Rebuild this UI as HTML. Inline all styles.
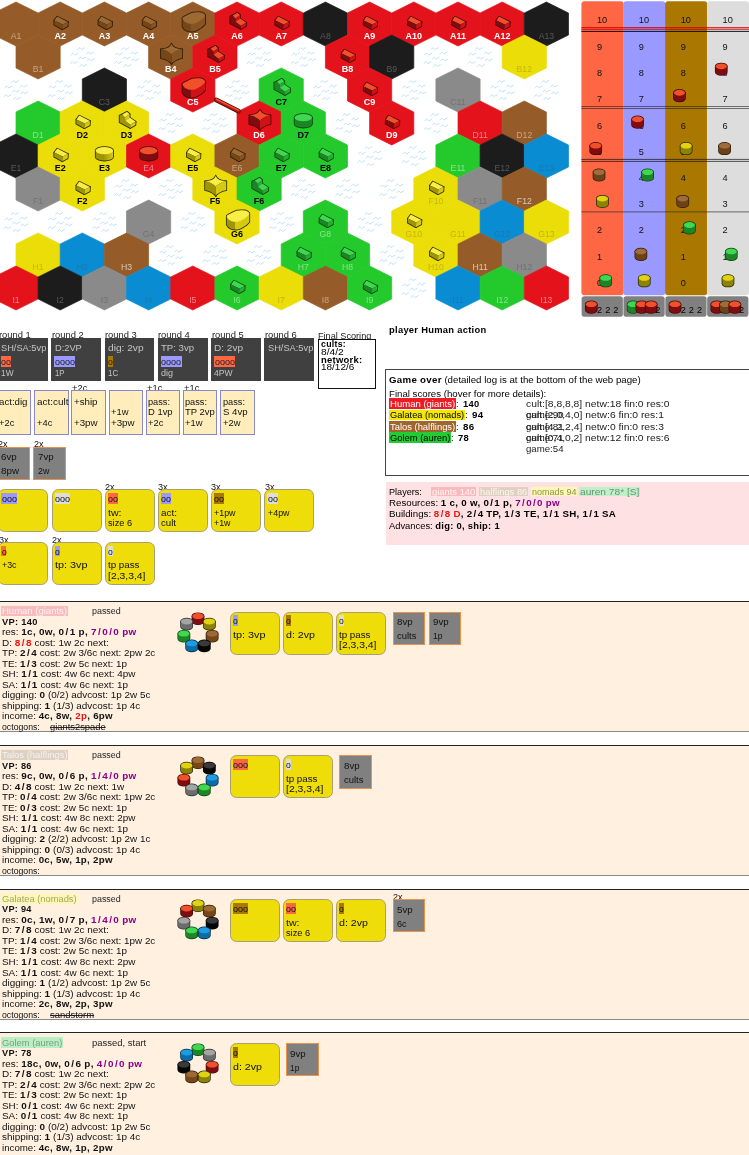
<!DOCTYPE html><html><head><meta charset="utf-8"><style>
*{box-sizing:border-box}
html,body{margin:0;padding:0}
body{position:relative;width:749px;height:1155px;overflow:hidden;background:#fff;font-family:"Liberation Sans",sans-serif;font-size:9.7px;color:#000}
svg text{font-family:"Liberation Sans",sans-serif;font-size:10px}
.a{position:absolute;white-space:nowrap}
.t{position:absolute;white-space:nowrap;line-height:10px;height:10px;transform-origin:0 50%}
i{font-style:normal;padding:0 1.1px}
b{font-weight:bold;letter-spacing:0.3px}
.pw{color:#8B008B;font-weight:bold;letter-spacing:0.3px}
.rd{color:#EE1111;font-weight:bold;letter-spacing:0.3px}
.rbox{position:absolute;top:338.2px;width:49.9px;height:42.6px;background:#404040}
.bon{position:absolute;top:390.3px;width:34.4px;height:45px;background:#FFEEBB;border:0.8px solid #8888CC}
.town{position:absolute;width:32.8px;height:33.1px;background:#808080;border:1.3px solid #E8924A}
.fav{position:absolute;width:50px;height:43.1px;background:#EEDD08;border:0.8px solid #A8A070;border-radius:6.5px}
.cb{position:absolute}
.sec{position:absolute;left:-2px;width:753px;height:131.3px;background:#FFF0E0;border-top:1.2px solid #222;border-bottom:1.2px solid #888}
</style></head><body><div id="w" style="position:absolute;left:0;top:0;width:749px;height:1155px;will-change:transform"><svg width="581" height="322" viewBox="0 0 581 322" style="position:absolute;left:0;top:0"><defs><linearGradient id="cg-brown" x1="0" x2="1" y1="0" y2="0"><stop offset="0" stop-color="#764616"/><stop offset="0.45" stop-color="#764616"/><stop offset="1" stop-color="#764616"/></linearGradient><linearGradient id="sg-brown" gradientUnits="userSpaceOnUse" x1="-11" x2="13" y1="0" y2="0"><stop offset="0" stop-color="#764616"/><stop offset="0.355" stop-color="#764616"/><stop offset="0.385" stop-color="#875322"/><stop offset="1" stop-color="#875322"/></linearGradient><linearGradient id="cg-red" x1="0" x2="1" y1="0" y2="0"><stop offset="0" stop-color="#7E0C10"/><stop offset="0.45" stop-color="#7E0C10"/><stop offset="1" stop-color="#7E0C10"/></linearGradient><linearGradient id="sg-red" gradientUnits="userSpaceOnUse" x1="-11" x2="13" y1="0" y2="0"><stop offset="0" stop-color="#7E0C10"/><stop offset="0.355" stop-color="#7E0C10"/><stop offset="0.385" stop-color="#D01218"/><stop offset="1" stop-color="#D01218"/></linearGradient><linearGradient id="cg-yellow" x1="0" x2="1" y1="0" y2="0"><stop offset="0" stop-color="#9E9608"/><stop offset="0.45" stop-color="#9E9608"/><stop offset="1" stop-color="#D6CA10"/></linearGradient><linearGradient id="sg-yellow" gradientUnits="userSpaceOnUse" x1="-11" x2="13" y1="0" y2="0"><stop offset="0" stop-color="#9E9608"/><stop offset="0.355" stop-color="#9E9608"/><stop offset="0.385" stop-color="#D6CA10"/><stop offset="1" stop-color="#D6CA10"/></linearGradient><linearGradient id="cg-green" x1="0" x2="1" y1="0" y2="0"><stop offset="0" stop-color="#1C8626"/><stop offset="0.45" stop-color="#1C8626"/><stop offset="1" stop-color="#1C8626"/></linearGradient><linearGradient id="sg-green" gradientUnits="userSpaceOnUse" x1="-11" x2="13" y1="0" y2="0"><stop offset="0" stop-color="#1C8626"/><stop offset="0.355" stop-color="#1C8626"/><stop offset="0.385" stop-color="#26AE32"/><stop offset="1" stop-color="#26AE32"/></linearGradient><linearGradient id="cg-black" x1="0" x2="1" y1="0" y2="0"><stop offset="0" stop-color="#060606"/><stop offset="0.45" stop-color="#060606"/><stop offset="1" stop-color="#060606"/></linearGradient><linearGradient id="sg-black" gradientUnits="userSpaceOnUse" x1="-11" x2="13" y1="0" y2="0"><stop offset="0" stop-color="#060606"/><stop offset="0.355" stop-color="#060606"/><stop offset="0.385" stop-color="#060606"/><stop offset="1" stop-color="#060606"/></linearGradient><linearGradient id="cg-blue" x1="0" x2="1" y1="0" y2="0"><stop offset="0" stop-color="#0A6CA8"/><stop offset="0.45" stop-color="#0A6CA8"/><stop offset="1" stop-color="#0A6CA8"/></linearGradient><linearGradient id="sg-blue" gradientUnits="userSpaceOnUse" x1="-11" x2="13" y1="0" y2="0"><stop offset="0" stop-color="#0A6CA8"/><stop offset="0.355" stop-color="#0A6CA8"/><stop offset="0.385" stop-color="#0C74B4"/><stop offset="1" stop-color="#0C74B4"/></linearGradient><linearGradient id="cg-gray" x1="0" x2="1" y1="0" y2="0"><stop offset="0" stop-color="#6C6C6C"/><stop offset="0.45" stop-color="#6C6C6C"/><stop offset="1" stop-color="#6C6C6C"/></linearGradient><linearGradient id="sg-gray" gradientUnits="userSpaceOnUse" x1="-11" x2="13" y1="0" y2="0"><stop offset="0" stop-color="#6C6C6C"/><stop offset="0.355" stop-color="#6C6C6C"/><stop offset="0.385" stop-color="#787878"/><stop offset="1" stop-color="#787878"/></linearGradient><linearGradient id="cg-cyellow" x1="0" x2="1" y1="0" y2="0"><stop offset="0" stop-color="#8C8208"/><stop offset="0.45" stop-color="#8C8208"/><stop offset="1" stop-color="#8C8208"/></linearGradient><linearGradient id="sg-cyellow" gradientUnits="userSpaceOnUse" x1="-11" x2="13" y1="0" y2="0"><stop offset="0" stop-color="#8C8208"/><stop offset="0.355" stop-color="#8C8208"/><stop offset="0.385" stop-color="#8C8208"/><stop offset="1" stop-color="#8C8208"/></linearGradient><linearGradient id="cg-cbrown" x1="0" x2="1" y1="0" y2="0"><stop offset="0" stop-color="#6E4218"/><stop offset="0.45" stop-color="#6E4218"/><stop offset="1" stop-color="#6E4218"/></linearGradient><linearGradient id="sg-cbrown" gradientUnits="userSpaceOnUse" x1="-11" x2="13" y1="0" y2="0"><stop offset="0" stop-color="#6E4218"/><stop offset="0.355" stop-color="#6E4218"/><stop offset="0.385" stop-color="#6E4218"/><stop offset="1" stop-color="#6E4218"/></linearGradient><g id="wv" fill="none" stroke="#B2DDF7" stroke-width="0.9" stroke-linecap="round" stroke-linejoin="round"><path transform="translate(-1,-8.5)" d="M-3.4,0.9C-2.6,-0.2 -2,-1.2 -1.5,-0.8S-0.2,1.1 0.6,0.9S2.4,-0.6 3.3,-0.8"/><path transform="translate(-7.6,-3)" d="M-3.4,0.9C-2.6,-0.2 -2,-1.2 -1.5,-0.8S-0.2,1.1 0.6,0.9S2.4,-0.6 3.3,-0.8"/><path transform="translate(7.7,-4)" d="M-3.4,0.9C-2.6,-0.2 -2,-1.2 -1.5,-0.8S-0.2,1.1 0.6,0.9S2.4,-0.6 3.3,-0.8"/><path transform="translate(0,1)" d="M-3.4,0.9C-2.6,-0.2 -2,-1.2 -1.5,-0.8S-0.2,1.1 0.6,0.9S2.4,-0.6 3.3,-0.8"/><path transform="translate(8.7,2.7)" d="M-3.4,0.9C-2.6,-0.2 -2,-1.2 -1.5,-0.8S-0.2,1.1 0.6,0.9S2.4,-0.6 3.3,-0.8"/><path transform="translate(-8.3,5.5)" d="M-3.4,0.9C-2.6,-0.2 -2,-1.2 -1.5,-0.8S-0.2,1.1 0.6,0.9S2.4,-0.6 3.3,-0.8"/><path transform="translate(1,8.4)" d="M-3.4,0.9C-2.6,-0.2 -2,-1.2 -1.5,-0.8S-0.2,1.1 0.6,0.9S2.4,-0.6 3.3,-0.8"/></g></defs><use href="#wv" x="82.3" y="57"/><use href="#wv" x="126.5" y="57"/><use href="#wv" x="259.1" y="57"/><use href="#wv" x="303.3" y="57"/><use href="#wv" x="435.9" y="57"/><use href="#wv" x="480.1" y="57"/><use href="#wv" x="16" y="90"/><use href="#wv" x="60.2" y="90"/><use href="#wv" x="148.6" y="90"/><use href="#wv" x="237" y="90"/><use href="#wv" x="325.4" y="90"/><use href="#wv" x="413.8" y="90"/><use href="#wv" x="502.2" y="90"/><use href="#wv" x="546.4" y="90"/><use href="#wv" x="170.7" y="123"/><use href="#wv" x="214.9" y="123"/><use href="#wv" x="347.5" y="123"/><use href="#wv" x="435.9" y="123"/><use href="#wv" x="369.6" y="156"/><use href="#wv" x="413.8" y="156"/><use href="#wv" x="126.5" y="189"/><use href="#wv" x="170.7" y="189"/><use href="#wv" x="303.3" y="189"/><use href="#wv" x="347.5" y="189"/><use href="#wv" x="391.7" y="189"/><use href="#wv" x="16" y="222"/><use href="#wv" x="60.2" y="222"/><use href="#wv" x="104.4" y="222"/><use href="#wv" x="192.8" y="222"/><use href="#wv" x="281.2" y="222"/><use href="#wv" x="369.6" y="222"/><use href="#wv" x="170.7" y="255"/><use href="#wv" x="214.9" y="255"/><use href="#wv" x="259.1" y="255"/><use href="#wv" x="391.7" y="255"/><use href="#wv" x="413.8" y="288"/><polygon points="16,2 38.1,13 38.1,35 16,46 -6.1,35 -6.1,13" fill="#955B28" stroke="#955B28" stroke-width="0.7"/><polygon points="60.2,2 82.3,13 82.3,35 60.2,46 38.1,35 38.1,13" fill="#955B28" stroke="#955B28" stroke-width="0.7"/><polygon points="104.4,2 126.5,13 126.5,35 104.4,46 82.3,35 82.3,13" fill="#955B28" stroke="#955B28" stroke-width="0.7"/><polygon points="148.6,2 170.7,13 170.7,35 148.6,46 126.5,35 126.5,13" fill="#955B28" stroke="#955B28" stroke-width="0.7"/><polygon points="192.8,2 214.9,13 214.9,35 192.8,46 170.7,35 170.7,13" fill="#955B28" stroke="#955B28" stroke-width="0.7"/><polygon points="237,2 259.1,13 259.1,35 237,46 214.9,35 214.9,13" fill="#E3121B" stroke="#E3121B" stroke-width="0.7"/><polygon points="281.2,2 303.3,13 303.3,35 281.2,46 259.1,35 259.1,13" fill="#E3121B" stroke="#E3121B" stroke-width="0.7"/><polygon points="325.4,2 347.5,13 347.5,35 325.4,46 303.3,35 303.3,13" fill="#1C1C1C" stroke="#1C1C1C" stroke-width="0.7"/><polygon points="369.6,2 391.7,13 391.7,35 369.6,46 347.5,35 347.5,13" fill="#E3121B" stroke="#E3121B" stroke-width="0.7"/><polygon points="413.8,2 435.9,13 435.9,35 413.8,46 391.7,35 391.7,13" fill="#E3121B" stroke="#E3121B" stroke-width="0.7"/><polygon points="458,2 480.1,13 480.1,35 458,46 435.9,35 435.9,13" fill="#E3121B" stroke="#E3121B" stroke-width="0.7"/><polygon points="502.2,2 524.3,13 524.3,35 502.2,46 480.1,35 480.1,13" fill="#E3121B" stroke="#E3121B" stroke-width="0.7"/><polygon points="546.4,2 568.5,13 568.5,35 546.4,46 524.3,35 524.3,13" fill="#1C1C1C" stroke="#1C1C1C" stroke-width="0.7"/><polygon points="38.1,35 60.2,46 60.2,68 38.1,79 16,68 16,46" fill="#955B28" stroke="#955B28" stroke-width="0.7"/><polygon points="170.7,35 192.8,46 192.8,68 170.7,79 148.6,68 148.6,46" fill="#955B28" stroke="#955B28" stroke-width="0.7"/><polygon points="214.9,35 237,46 237,68 214.9,79 192.8,68 192.8,46" fill="#E3121B" stroke="#E3121B" stroke-width="0.7"/><polygon points="347.5,35 369.6,46 369.6,68 347.5,79 325.4,68 325.4,46" fill="#E3121B" stroke="#E3121B" stroke-width="0.7"/><polygon points="391.7,35 413.8,46 413.8,68 391.7,79 369.6,68 369.6,46" fill="#1C1C1C" stroke="#1C1C1C" stroke-width="0.7"/><polygon points="524.3,35 546.4,46 546.4,68 524.3,79 502.2,68 502.2,46" fill="#EBDD08" stroke="#EBDD08" stroke-width="0.7"/><polygon points="104.4,68 126.5,79 126.5,101 104.4,112 82.3,101 82.3,79" fill="#1C1C1C" stroke="#1C1C1C" stroke-width="0.7"/><polygon points="192.8,68 214.9,79 214.9,101 192.8,112 170.7,101 170.7,79" fill="#E3121B" stroke="#E3121B" stroke-width="0.7"/><polygon points="281.2,68 303.3,79 303.3,101 281.2,112 259.1,101 259.1,79" fill="#24C92C" stroke="#24C92C" stroke-width="0.7"/><polygon points="369.6,68 391.7,79 391.7,101 369.6,112 347.5,101 347.5,79" fill="#E3121B" stroke="#E3121B" stroke-width="0.7"/><polygon points="458,68 480.1,79 480.1,101 458,112 435.9,101 435.9,79" fill="#8A8A8A" stroke="#8A8A8A" stroke-width="0.7"/><polygon points="38.1,101 60.2,112 60.2,134 38.1,145 16,134 16,112" fill="#24C92C" stroke="#24C92C" stroke-width="0.7"/><polygon points="82.3,101 104.4,112 104.4,134 82.3,145 60.2,134 60.2,112" fill="#EBDD08" stroke="#EBDD08" stroke-width="0.7"/><polygon points="126.5,101 148.6,112 148.6,134 126.5,145 104.4,134 104.4,112" fill="#EBDD08" stroke="#EBDD08" stroke-width="0.7"/><polygon points="259.1,101 281.2,112 281.2,134 259.1,145 237,134 237,112" fill="#E3121B" stroke="#E3121B" stroke-width="0.7"/><polygon points="303.3,101 325.4,112 325.4,134 303.3,145 281.2,134 281.2,112" fill="#24C92C" stroke="#24C92C" stroke-width="0.7"/><polygon points="391.7,101 413.8,112 413.8,134 391.7,145 369.6,134 369.6,112" fill="#E3121B" stroke="#E3121B" stroke-width="0.7"/><polygon points="480.1,101 502.2,112 502.2,134 480.1,145 458,134 458,112" fill="#E3121B" stroke="#E3121B" stroke-width="0.7"/><polygon points="524.3,101 546.4,112 546.4,134 524.3,145 502.2,134 502.2,112" fill="#955B28" stroke="#955B28" stroke-width="0.7"/><polygon points="16,134 38.1,145 38.1,167 16,178 -6.1,167 -6.1,145" fill="#1C1C1C" stroke="#1C1C1C" stroke-width="0.7"/><polygon points="60.2,134 82.3,145 82.3,167 60.2,178 38.1,167 38.1,145" fill="#EBDD08" stroke="#EBDD08" stroke-width="0.7"/><polygon points="104.4,134 126.5,145 126.5,167 104.4,178 82.3,167 82.3,145" fill="#EBDD08" stroke="#EBDD08" stroke-width="0.7"/><polygon points="148.6,134 170.7,145 170.7,167 148.6,178 126.5,167 126.5,145" fill="#E3121B" stroke="#E3121B" stroke-width="0.7"/><polygon points="192.8,134 214.9,145 214.9,167 192.8,178 170.7,167 170.7,145" fill="#EBDD08" stroke="#EBDD08" stroke-width="0.7"/><polygon points="237,134 259.1,145 259.1,167 237,178 214.9,167 214.9,145" fill="#955B28" stroke="#955B28" stroke-width="0.7"/><polygon points="281.2,134 303.3,145 303.3,167 281.2,178 259.1,167 259.1,145" fill="#24C92C" stroke="#24C92C" stroke-width="0.7"/><polygon points="325.4,134 347.5,145 347.5,167 325.4,178 303.3,167 303.3,145" fill="#24C92C" stroke="#24C92C" stroke-width="0.7"/><polygon points="458,134 480.1,145 480.1,167 458,178 435.9,167 435.9,145" fill="#24C92C" stroke="#24C92C" stroke-width="0.7"/><polygon points="502.2,134 524.3,145 524.3,167 502.2,178 480.1,167 480.1,145" fill="#1C1C1C" stroke="#1C1C1C" stroke-width="0.7"/><polygon points="546.4,134 568.5,145 568.5,167 546.4,178 524.3,167 524.3,145" fill="#0A8CD2" stroke="#0A8CD2" stroke-width="0.7"/><polygon points="38.1,167 60.2,178 60.2,200 38.1,211 16,200 16,178" fill="#8A8A8A" stroke="#8A8A8A" stroke-width="0.7"/><polygon points="82.3,167 104.4,178 104.4,200 82.3,211 60.2,200 60.2,178" fill="#EBDD08" stroke="#EBDD08" stroke-width="0.7"/><polygon points="214.9,167 237,178 237,200 214.9,211 192.8,200 192.8,178" fill="#EBDD08" stroke="#EBDD08" stroke-width="0.7"/><polygon points="259.1,167 281.2,178 281.2,200 259.1,211 237,200 237,178" fill="#24C92C" stroke="#24C92C" stroke-width="0.7"/><polygon points="435.9,167 458,178 458,200 435.9,211 413.8,200 413.8,178" fill="#EBDD08" stroke="#EBDD08" stroke-width="0.7"/><polygon points="480.1,167 502.2,178 502.2,200 480.1,211 458,200 458,178" fill="#8A8A8A" stroke="#8A8A8A" stroke-width="0.7"/><polygon points="524.3,167 546.4,178 546.4,200 524.3,211 502.2,200 502.2,178" fill="#955B28" stroke="#955B28" stroke-width="0.7"/><polygon points="148.6,200 170.7,211 170.7,233 148.6,244 126.5,233 126.5,211" fill="#8A8A8A" stroke="#8A8A8A" stroke-width="0.7"/><polygon points="237,200 259.1,211 259.1,233 237,244 214.9,233 214.9,211" fill="#EBDD08" stroke="#EBDD08" stroke-width="0.7"/><polygon points="325.4,200 347.5,211 347.5,233 325.4,244 303.3,233 303.3,211" fill="#24C92C" stroke="#24C92C" stroke-width="0.7"/><polygon points="413.8,200 435.9,211 435.9,233 413.8,244 391.7,233 391.7,211" fill="#EBDD08" stroke="#EBDD08" stroke-width="0.7"/><polygon points="458,200 480.1,211 480.1,233 458,244 435.9,233 435.9,211" fill="#EBDD08" stroke="#EBDD08" stroke-width="0.7"/><polygon points="502.2,200 524.3,211 524.3,233 502.2,244 480.1,233 480.1,211" fill="#0A8CD2" stroke="#0A8CD2" stroke-width="0.7"/><polygon points="546.4,200 568.5,211 568.5,233 546.4,244 524.3,233 524.3,211" fill="#EBDD08" stroke="#EBDD08" stroke-width="0.7"/><polygon points="38.1,233 60.2,244 60.2,266 38.1,277 16,266 16,244" fill="#EBDD08" stroke="#EBDD08" stroke-width="0.7"/><polygon points="82.3,233 104.4,244 104.4,266 82.3,277 60.2,266 60.2,244" fill="#0A8CD2" stroke="#0A8CD2" stroke-width="0.7"/><polygon points="126.5,233 148.6,244 148.6,266 126.5,277 104.4,266 104.4,244" fill="#955B28" stroke="#955B28" stroke-width="0.7"/><polygon points="303.3,233 325.4,244 325.4,266 303.3,277 281.2,266 281.2,244" fill="#24C92C" stroke="#24C92C" stroke-width="0.7"/><polygon points="347.5,233 369.6,244 369.6,266 347.5,277 325.4,266 325.4,244" fill="#24C92C" stroke="#24C92C" stroke-width="0.7"/><polygon points="435.9,233 458,244 458,266 435.9,277 413.8,266 413.8,244" fill="#EBDD08" stroke="#EBDD08" stroke-width="0.7"/><polygon points="480.1,233 502.2,244 502.2,266 480.1,277 458,266 458,244" fill="#955B28" stroke="#955B28" stroke-width="0.7"/><polygon points="524.3,233 546.4,244 546.4,266 524.3,277 502.2,266 502.2,244" fill="#8A8A8A" stroke="#8A8A8A" stroke-width="0.7"/><polygon points="16,266 38.1,277 38.1,299 16,310 -6.1,299 -6.1,277" fill="#E3121B" stroke="#E3121B" stroke-width="0.7"/><polygon points="60.2,266 82.3,277 82.3,299 60.2,310 38.1,299 38.1,277" fill="#1C1C1C" stroke="#1C1C1C" stroke-width="0.7"/><polygon points="104.4,266 126.5,277 126.5,299 104.4,310 82.3,299 82.3,277" fill="#8A8A8A" stroke="#8A8A8A" stroke-width="0.7"/><polygon points="148.6,266 170.7,277 170.7,299 148.6,310 126.5,299 126.5,277" fill="#0A8CD2" stroke="#0A8CD2" stroke-width="0.7"/><polygon points="192.8,266 214.9,277 214.9,299 192.8,310 170.7,299 170.7,277" fill="#E3121B" stroke="#E3121B" stroke-width="0.7"/><polygon points="237,266 259.1,277 259.1,299 237,310 214.9,299 214.9,277" fill="#24C92C" stroke="#24C92C" stroke-width="0.7"/><polygon points="281.2,266 303.3,277 303.3,299 281.2,310 259.1,299 259.1,277" fill="#EBDD08" stroke="#EBDD08" stroke-width="0.7"/><polygon points="325.4,266 347.5,277 347.5,299 325.4,310 303.3,299 303.3,277" fill="#955B28" stroke="#955B28" stroke-width="0.7"/><polygon points="369.6,266 391.7,277 391.7,299 369.6,310 347.5,299 347.5,277" fill="#24C92C" stroke="#24C92C" stroke-width="0.7"/><polygon points="458,266 480.1,277 480.1,299 458,310 435.9,299 435.9,277" fill="#0A8CD2" stroke="#0A8CD2" stroke-width="0.7"/><polygon points="502.2,266 524.3,277 524.3,299 502.2,310 480.1,299 480.1,277" fill="#24C92C" stroke="#24C92C" stroke-width="0.7"/><polygon points="546.4,266 568.5,277 568.5,299 546.4,310 524.3,299 524.3,277" fill="#E3121B" stroke="#E3121B" stroke-width="0.7"/><line x1="216.2" y1="99.9" x2="238.4" y2="111.1" stroke="#4A0608" stroke-width="4.6" stroke-linecap="round"/><line x1="216.2" y1="99.9" x2="238.4" y2="111.1" stroke="#B81412" stroke-width="3" stroke-linecap="round"/><line x1="216.5" y1="99.2" x2="238.70000000000002" y2="110.39999999999999" stroke="#F0502A" stroke-width="1.6" stroke-linecap="round"/><text transform="translate(16,38.6) scale(0.87,0.91)" text-anchor="middle" fill="#C7A785">A1</text><g transform="translate(60.2,24)" stroke-linejoin="round"><g fill="#2E1C08" stroke="#2E1C08" stroke-width="1.6"><path d="M-3,-7.4L7.7,-2.1L2.5,0.6L-5.9,-3.5Z"/><path d="M-5.9,-3.5L2.5,0.6L2,5.2L-6,0.7Z"/><path d="M2.5,0.6L7.7,-2.1L7.5,2.2L2,5.2Z"/></g><path d="M-3,-7.4L7.7,-2.1L2.5,0.6L-5.9,-3.5Z" fill="#9E6A34"/><path d="M-5.9,-3.5L2.5,0.6L2,5.2L-6,0.7Z" fill="#764616"/><path d="M2.5,0.6L7.7,-2.1L7.5,2.2L2,5.2Z" fill="#875322"/></g><text transform="translate(60.2,38.6) scale(0.9,0.91)" text-anchor="middle" font-weight="bold" fill="#fff">A2</text><g transform="translate(104.4,24)" stroke-linejoin="round"><g fill="#2E1C08" stroke="#2E1C08" stroke-width="1.6"><path d="M-3,-7.4L7.7,-2.1L2.5,0.6L-5.9,-3.5Z"/><path d="M-5.9,-3.5L2.5,0.6L2,5.2L-6,0.7Z"/><path d="M2.5,0.6L7.7,-2.1L7.5,2.2L2,5.2Z"/></g><path d="M-3,-7.4L7.7,-2.1L2.5,0.6L-5.9,-3.5Z" fill="#9E6A34"/><path d="M-5.9,-3.5L2.5,0.6L2,5.2L-6,0.7Z" fill="#764616"/><path d="M2.5,0.6L7.7,-2.1L7.5,2.2L2,5.2Z" fill="#875322"/></g><text transform="translate(104.4,38.6) scale(0.9,0.91)" text-anchor="middle" font-weight="bold" fill="#fff">A3</text><g transform="translate(148.6,24)" stroke-linejoin="round"><g fill="#2E1C08" stroke="#2E1C08" stroke-width="1.6"><path d="M-3,-7.4L7.7,-2.1L2.5,0.6L-5.9,-3.5Z"/><path d="M-5.9,-3.5L2.5,0.6L2,5.2L-6,0.7Z"/><path d="M2.5,0.6L7.7,-2.1L7.5,2.2L2,5.2Z"/></g><path d="M-3,-7.4L7.7,-2.1L2.5,0.6L-5.9,-3.5Z" fill="#9E6A34"/><path d="M-5.9,-3.5L2.5,0.6L2,5.2L-6,0.7Z" fill="#764616"/><path d="M2.5,0.6L7.7,-2.1L7.5,2.2L2,5.2Z" fill="#875322"/></g><text transform="translate(148.6,38.6) scale(0.9,0.91)" text-anchor="middle" font-weight="bold" fill="#fff">A4</text><g transform="translate(192.8,24)" stroke-linejoin="round"><g fill="#2E1C08" stroke="#2E1C08" stroke-width="1.6"><path d="M-10.25,2.18L-10.23,1.77L-10.09,1.45L-9.8,1.17L-9.33,0.86L-8.65,0.44L-7.65,-0.13L-6.33,-0.82L-4.89,-1.55L-3.51,-2.21L-2.39,-2.72L-1.65,-3.06L-1.16,-3.29L-0.74,-3.44L-0.21,-3.55L0.62,-3.65L1.87,-3.75L3.44,-3.83L5.11,-3.87L6.67,-3.86L7.92,-3.79L8.82,-3.63L9.49,-3.41L10.02,-3.14L10.46,-2.82L10.88,-2.47L11.33,-2.09L11.78,-1.67L12.14,-1.22L12.32,-0.71L12.25,-0.14L11.88,0.51L11.24,1.26L10.44,2.04L9.55,2.81L8.66,3.52L7.72,4.19L6.67,4.85L5.59,5.48L4.55,6.04L3.63,6.5L2.86,6.85L2.21,7.12L1.6,7.32L0.97,7.46L0.24,7.55L-0.62,7.6L-1.55,7.6L-2.51,7.55L-3.47,7.43L-4.36,7.24L-5.22,6.99L-6.07,6.67L-6.88,6.29L-7.63,5.85L-8.28,5.37L-8.85,4.79L-9.38,4.12L-9.81,3.42L-10.12,2.75Z"/><path d="M-10.25,-5.62L12.32,-8.51L12.32,-0.71L-10.25,2.18Z"/><path d="M-10.25,-5.62L-10.23,-6.03L-10.09,-6.35L-9.8,-6.63L-9.33,-6.94L-8.65,-7.36L-7.65,-7.93L-6.33,-8.62L-4.89,-9.35L-3.51,-10.01L-2.39,-10.52L-1.65,-10.86L-1.16,-11.09L-0.74,-11.24L-0.21,-11.35L0.62,-11.45L1.87,-11.55L3.44,-11.63L5.11,-11.67L6.67,-11.66L7.92,-11.59L8.82,-11.43L9.49,-11.21L10.02,-10.94L10.46,-10.62L10.88,-10.27L11.33,-9.89L11.78,-9.47L12.14,-9.02L12.32,-8.51L12.25,-7.94L11.88,-7.29L11.24,-6.54L10.44,-5.76L9.55,-4.99L8.66,-4.28L7.72,-3.61L6.67,-2.95L5.59,-2.32L4.55,-1.76L3.63,-1.3L2.86,-0.95L2.21,-0.68L1.6,-0.48L0.97,-0.34L0.24,-0.25L-0.62,-0.2L-1.55,-0.2L-2.51,-0.25L-3.47,-0.37L-4.36,-0.56L-5.22,-0.81L-6.07,-1.13L-6.88,-1.51L-7.63,-1.95L-8.28,-2.43L-8.85,-3.01L-9.38,-3.68L-9.81,-4.38L-10.12,-5.05Z"/></g><path d="M-10.25,2.18L-10.23,1.77L-10.09,1.45L-9.8,1.17L-9.33,0.86L-8.65,0.44L-7.65,-0.13L-6.33,-0.82L-4.89,-1.55L-3.51,-2.21L-2.39,-2.72L-1.65,-3.06L-1.16,-3.29L-0.74,-3.44L-0.21,-3.55L0.62,-3.65L1.87,-3.75L3.44,-3.83L5.11,-3.87L6.67,-3.86L7.92,-3.79L8.82,-3.63L9.49,-3.41L10.02,-3.14L10.46,-2.82L10.88,-2.47L11.33,-2.09L11.78,-1.67L12.14,-1.22L12.32,-0.71L12.25,-0.14L11.88,0.51L11.24,1.26L10.44,2.04L9.55,2.81L8.66,3.52L7.72,4.19L6.67,4.85L5.59,5.48L4.55,6.04L3.63,6.5L2.86,6.85L2.21,7.12L1.6,7.32L0.97,7.46L0.24,7.55L-0.62,7.6L-1.55,7.6L-2.51,7.55L-3.47,7.43L-4.36,7.24L-5.22,6.99L-6.07,6.67L-6.88,6.29L-7.63,5.85L-8.28,5.37L-8.85,4.79L-9.38,4.12L-9.81,3.42L-10.12,2.75Z" fill="url(#sg-brown)"/><path d="M-10.25,-5.62L12.32,-8.51L12.32,-0.71L-10.25,2.18Z" fill="url(#sg-brown)"/><path d="M-10.25,-5.62L-10.23,-6.03L-10.09,-6.35L-9.8,-6.63L-9.33,-6.94L-8.65,-7.36L-7.65,-7.93L-6.33,-8.62L-4.89,-9.35L-3.51,-10.01L-2.39,-10.52L-1.65,-10.86L-1.16,-11.09L-0.74,-11.24L-0.21,-11.35L0.62,-11.45L1.87,-11.55L3.44,-11.63L5.11,-11.67L6.67,-11.66L7.92,-11.59L8.82,-11.43L9.49,-11.21L10.02,-10.94L10.46,-10.62L10.88,-10.27L11.33,-9.89L11.78,-9.47L12.14,-9.02L12.32,-8.51L12.25,-7.94L11.88,-7.29L11.24,-6.54L10.44,-5.76L9.55,-4.99L8.66,-4.28L7.72,-3.61L6.67,-2.95L5.59,-2.32L4.55,-1.76L3.63,-1.3L2.86,-0.95L2.21,-0.68L1.6,-0.48L0.97,-0.34L0.24,-0.25L-0.62,-0.2L-1.55,-0.2L-2.51,-0.25L-3.47,-0.37L-4.36,-0.56L-5.22,-0.81L-6.07,-1.13L-6.88,-1.51L-7.63,-1.95L-8.28,-2.43L-8.85,-3.01L-9.38,-3.68L-9.81,-4.38L-10.12,-5.05Z" fill="#9E6A34"/></g><text transform="translate(192.8,38.6) scale(0.9,0.91)" text-anchor="middle" font-weight="bold" fill="#fff">A5</text><g transform="translate(237,24)" stroke-linejoin="round"><g fill="#4A0608" stroke="#4A0608" stroke-width="1.6"><path d="M-6.9,-7.4L-4.3,-8.6L-1.5,-5.6L-1.3,-2.2L3.9,1.8L3.7,5L-6.9,-0.8Z"/><path d="M-4.3,-8.6L0.5,-11.3L3.1,-8.8L-1.5,-5.6Z"/><path d="M-1.5,-5.6L3.1,-8.8L3.2,-5.4L-1.3,-2.2Z"/><path d="M-1.3,-2.2L3.2,-5.4L9.1,-1.4L3.9,1.8Z"/><path d="M3.9,1.8L9.1,-1.4L8.9,2L3.7,5Z"/></g><path d="M-6.9,-7.4L-4.3,-8.6L-1.5,-5.6L-1.3,-2.2L3.9,1.8L3.7,5L-6.9,-0.8Z" fill="#7E0C10"/><path d="M-4.3,-8.6L0.5,-11.3L3.1,-8.8L-1.5,-5.6Z" fill="#F0502A"/><path d="M-1.5,-5.6L3.1,-8.8L3.2,-5.4L-1.3,-2.2Z" fill="#D01218"/><path d="M-1.3,-2.2L3.2,-5.4L9.1,-1.4L3.9,1.8Z" fill="#F0502A"/><path d="M3.9,1.8L9.1,-1.4L8.9,2L3.7,5Z" fill="#D01218"/></g><text transform="translate(237,38.6) scale(0.9,0.91)" text-anchor="middle" font-weight="bold" fill="#fff">A6</text><g transform="translate(281.2,24)" stroke-linejoin="round"><g fill="#4A0608" stroke="#4A0608" stroke-width="1.6"><path d="M-3,-7.4L7.7,-2.1L2.5,0.6L-5.9,-3.5Z"/><path d="M-5.9,-3.5L2.5,0.6L2,5.2L-6,0.7Z"/><path d="M2.5,0.6L7.7,-2.1L7.5,2.2L2,5.2Z"/></g><path d="M-3,-7.4L7.7,-2.1L2.5,0.6L-5.9,-3.5Z" fill="#F0502A"/><path d="M-5.9,-3.5L2.5,0.6L2,5.2L-6,0.7Z" fill="#7E0C10"/><path d="M2.5,0.6L7.7,-2.1L7.5,2.2L2,5.2Z" fill="#D01218"/></g><text transform="translate(281.2,38.6) scale(0.9,0.91)" text-anchor="middle" font-weight="bold" fill="#fff">A7</text><text transform="translate(325.4,38.6) scale(0.87,0.91)" text-anchor="middle" fill="#585858">A8</text><g transform="translate(369.6,24)" stroke-linejoin="round"><g fill="#4A0608" stroke="#4A0608" stroke-width="1.6"><path d="M-3,-7.4L7.7,-2.1L2.5,0.6L-5.9,-3.5Z"/><path d="M-5.9,-3.5L2.5,0.6L2,5.2L-6,0.7Z"/><path d="M2.5,0.6L7.7,-2.1L7.5,2.2L2,5.2Z"/></g><path d="M-3,-7.4L7.7,-2.1L2.5,0.6L-5.9,-3.5Z" fill="#F0502A"/><path d="M-5.9,-3.5L2.5,0.6L2,5.2L-6,0.7Z" fill="#7E0C10"/><path d="M2.5,0.6L7.7,-2.1L7.5,2.2L2,5.2Z" fill="#D01218"/></g><text transform="translate(369.6,38.6) scale(0.9,0.91)" text-anchor="middle" font-weight="bold" fill="#fff">A9</text><g transform="translate(413.8,24)" stroke-linejoin="round"><g fill="#4A0608" stroke="#4A0608" stroke-width="1.6"><path d="M-3,-7.4L7.7,-2.1L2.5,0.6L-5.9,-3.5Z"/><path d="M-5.9,-3.5L2.5,0.6L2,5.2L-6,0.7Z"/><path d="M2.5,0.6L7.7,-2.1L7.5,2.2L2,5.2Z"/></g><path d="M-3,-7.4L7.7,-2.1L2.5,0.6L-5.9,-3.5Z" fill="#F0502A"/><path d="M-5.9,-3.5L2.5,0.6L2,5.2L-6,0.7Z" fill="#7E0C10"/><path d="M2.5,0.6L7.7,-2.1L7.5,2.2L2,5.2Z" fill="#D01218"/></g><text transform="translate(413.8,38.6) scale(0.9,0.91)" text-anchor="middle" font-weight="bold" fill="#fff">A10</text><g transform="translate(458,24)" stroke-linejoin="round"><g fill="#4A0608" stroke="#4A0608" stroke-width="1.6"><path d="M-3,-7.4L7.7,-2.1L2.5,0.6L-5.9,-3.5Z"/><path d="M-5.9,-3.5L2.5,0.6L2,5.2L-6,0.7Z"/><path d="M2.5,0.6L7.7,-2.1L7.5,2.2L2,5.2Z"/></g><path d="M-3,-7.4L7.7,-2.1L2.5,0.6L-5.9,-3.5Z" fill="#F0502A"/><path d="M-5.9,-3.5L2.5,0.6L2,5.2L-6,0.7Z" fill="#7E0C10"/><path d="M2.5,0.6L7.7,-2.1L7.5,2.2L2,5.2Z" fill="#D01218"/></g><text transform="translate(458,38.6) scale(0.9,0.91)" text-anchor="middle" font-weight="bold" fill="#fff">A11</text><g transform="translate(502.2,24)" stroke-linejoin="round"><g fill="#4A0608" stroke="#4A0608" stroke-width="1.6"><path d="M-3,-7.4L7.7,-2.1L2.5,0.6L-5.9,-3.5Z"/><path d="M-5.9,-3.5L2.5,0.6L2,5.2L-6,0.7Z"/><path d="M2.5,0.6L7.7,-2.1L7.5,2.2L2,5.2Z"/></g><path d="M-3,-7.4L7.7,-2.1L2.5,0.6L-5.9,-3.5Z" fill="#F0502A"/><path d="M-5.9,-3.5L2.5,0.6L2,5.2L-6,0.7Z" fill="#7E0C10"/><path d="M2.5,0.6L7.7,-2.1L7.5,2.2L2,5.2Z" fill="#D01218"/></g><text transform="translate(502.2,38.6) scale(0.9,0.91)" text-anchor="middle" font-weight="bold" fill="#fff">A12</text><text transform="translate(546.4,38.6) scale(0.87,0.91)" text-anchor="middle" fill="#585858">A13</text><text transform="translate(38.1,71.6) scale(0.87,0.91)" text-anchor="middle" fill="#C7A785">B1</text><g transform="translate(170.7,57)" stroke-linejoin="round"><g fill="#2E1C08" stroke="#2E1C08" stroke-width="1.6"><path d="M-9.8,-7.8L-9.44,-7.77L-8.42,-7.58L-6.89,-7.16L-5.08,-6.49L-3.25,-5.6L-1.62,-4.61L-0.38,-3.63L0.39,-2.8L0.74,-2.24L0.8,-2.05L0.8,6.95L0.74,6.76L0.39,6.2L-0.38,5.37L-1.62,4.39L-3.25,3.4L-5.08,2.51L-6.89,1.84L-8.42,1.42L-9.44,1.23L-9.8,1.2Z"/><path d="M0.8,-2.05L0.86,-2.24L1.21,-2.8L1.98,-3.63L3.22,-4.61L4.85,-5.6L6.68,-6.49L8.49,-7.16L10.02,-7.58L11.04,-7.77L11.4,-7.8L11.4,1.2L11.04,1.23L10.02,1.42L8.49,1.84L6.68,2.51L4.85,3.4L3.22,4.39L1.98,5.37L1.21,6.2L0.86,6.76L0.8,6.95Z"/><path d="M11.4,-7.8L10.96,-7.81L9.72,-7.9L7.92,-8.18L5.9,-8.72L4.01,-9.54L2.5,-10.57L1.5,-11.66L0.98,-12.64L0.82,-13.31L0.8,-13.55L0.78,-13.31L0.62,-12.64L0.1,-11.66L-0.9,-10.57L-2.41,-9.54L-4.3,-8.72L-6.32,-8.18L-8.12,-7.9L-9.36,-7.81L-9.8,-7.8L-9.44,-7.77L-8.42,-7.58L-6.89,-7.16L-5.08,-6.49L-3.25,-5.6L-1.62,-4.61L-0.38,-3.63L0.39,-2.8L0.74,-2.24L0.8,-2.05L0.86,-2.24L1.21,-2.8L1.98,-3.63L3.22,-4.61L4.85,-5.6L6.68,-6.49L8.49,-7.16L10.02,-7.58L11.04,-7.77Z"/></g><path d="M-9.8,-7.8L-9.44,-7.77L-8.42,-7.58L-6.89,-7.16L-5.08,-6.49L-3.25,-5.6L-1.62,-4.61L-0.38,-3.63L0.39,-2.8L0.74,-2.24L0.8,-2.05L0.8,6.95L0.74,6.76L0.39,6.2L-0.38,5.37L-1.62,4.39L-3.25,3.4L-5.08,2.51L-6.89,1.84L-8.42,1.42L-9.44,1.23L-9.8,1.2Z" fill="#764616"/><path d="M0.8,-2.05L0.86,-2.24L1.21,-2.8L1.98,-3.63L3.22,-4.61L4.85,-5.6L6.68,-6.49L8.49,-7.16L10.02,-7.58L11.04,-7.77L11.4,-7.8L11.4,1.2L11.04,1.23L10.02,1.42L8.49,1.84L6.68,2.51L4.85,3.4L3.22,4.39L1.98,5.37L1.21,6.2L0.86,6.76L0.8,6.95Z" fill="#875322"/><path d="M11.4,-7.8L10.96,-7.81L9.72,-7.9L7.92,-8.18L5.9,-8.72L4.01,-9.54L2.5,-10.57L1.5,-11.66L0.98,-12.64L0.82,-13.31L0.8,-13.55L0.78,-13.31L0.62,-12.64L0.1,-11.66L-0.9,-10.57L-2.41,-9.54L-4.3,-8.72L-6.32,-8.18L-8.12,-7.9L-9.36,-7.81L-9.8,-7.8L-9.44,-7.77L-8.42,-7.58L-6.89,-7.16L-5.08,-6.49L-3.25,-5.6L-1.62,-4.61L-0.38,-3.63L0.39,-2.8L0.74,-2.24L0.8,-2.05L0.86,-2.24L1.21,-2.8L1.98,-3.63L3.22,-4.61L4.85,-5.6L6.68,-6.49L8.49,-7.16L10.02,-7.58L11.04,-7.77Z" fill="#9E6A34"/></g><text transform="translate(170.7,71.6) scale(0.9,0.91)" text-anchor="middle" font-weight="bold" fill="#fff">B4</text><g transform="translate(214.9,57)" stroke-linejoin="round"><g fill="#4A0608" stroke="#4A0608" stroke-width="1.6"><path d="M-6.9,-7.4L-4.3,-8.6L-1.5,-5.6L-1.3,-2.2L3.9,1.8L3.7,5L-6.9,-0.8Z"/><path d="M-4.3,-8.6L0.5,-11.3L3.1,-8.8L-1.5,-5.6Z"/><path d="M-1.5,-5.6L3.1,-8.8L3.2,-5.4L-1.3,-2.2Z"/><path d="M-1.3,-2.2L3.2,-5.4L9.1,-1.4L3.9,1.8Z"/><path d="M3.9,1.8L9.1,-1.4L8.9,2L3.7,5Z"/></g><path d="M-6.9,-7.4L-4.3,-8.6L-1.5,-5.6L-1.3,-2.2L3.9,1.8L3.7,5L-6.9,-0.8Z" fill="#7E0C10"/><path d="M-4.3,-8.6L0.5,-11.3L3.1,-8.8L-1.5,-5.6Z" fill="#F0502A"/><path d="M-1.5,-5.6L3.1,-8.8L3.2,-5.4L-1.3,-2.2Z" fill="#D01218"/><path d="M-1.3,-2.2L3.2,-5.4L9.1,-1.4L3.9,1.8Z" fill="#F0502A"/><path d="M3.9,1.8L9.1,-1.4L8.9,2L3.7,5Z" fill="#D01218"/></g><text transform="translate(214.9,71.6) scale(0.9,0.91)" text-anchor="middle" font-weight="bold" fill="#fff">B5</text><g transform="translate(347.5,57)" stroke-linejoin="round"><g fill="#4A0608" stroke="#4A0608" stroke-width="1.6"><path d="M-3,-7.4L7.7,-2.1L2.5,0.6L-5.9,-3.5Z"/><path d="M-5.9,-3.5L2.5,0.6L2,5.2L-6,0.7Z"/><path d="M2.5,0.6L7.7,-2.1L7.5,2.2L2,5.2Z"/></g><path d="M-3,-7.4L7.7,-2.1L2.5,0.6L-5.9,-3.5Z" fill="#F0502A"/><path d="M-5.9,-3.5L2.5,0.6L2,5.2L-6,0.7Z" fill="#7E0C10"/><path d="M2.5,0.6L7.7,-2.1L7.5,2.2L2,5.2Z" fill="#D01218"/></g><text transform="translate(347.5,71.6) scale(0.9,0.91)" text-anchor="middle" font-weight="bold" fill="#fff">B8</text><text transform="translate(391.7,71.6) scale(0.87,0.91)" text-anchor="middle" fill="#585858">B9</text><text transform="translate(524.3,71.6) scale(0.87,0.91)" text-anchor="middle" fill="#C3B708">B12</text><text transform="translate(104.4,104.6) scale(0.87,0.91)" text-anchor="middle" fill="#585858">C3</text><g transform="translate(192.8,90)" stroke-linejoin="round"><g fill="#4A0608" stroke="#4A0608" stroke-width="1.6"><path d="M-10.25,2.18L-10.23,1.77L-10.09,1.45L-9.8,1.17L-9.33,0.86L-8.65,0.44L-7.65,-0.13L-6.33,-0.82L-4.89,-1.55L-3.51,-2.21L-2.39,-2.72L-1.65,-3.06L-1.16,-3.29L-0.74,-3.44L-0.21,-3.55L0.62,-3.65L1.87,-3.75L3.44,-3.83L5.11,-3.87L6.67,-3.86L7.92,-3.79L8.82,-3.63L9.49,-3.41L10.02,-3.14L10.46,-2.82L10.88,-2.47L11.33,-2.09L11.78,-1.67L12.14,-1.22L12.32,-0.71L12.25,-0.14L11.88,0.51L11.24,1.26L10.44,2.04L9.55,2.81L8.66,3.52L7.72,4.19L6.67,4.85L5.59,5.48L4.55,6.04L3.63,6.5L2.86,6.85L2.21,7.12L1.6,7.32L0.97,7.46L0.24,7.55L-0.62,7.6L-1.55,7.6L-2.51,7.55L-3.47,7.43L-4.36,7.24L-5.22,6.99L-6.07,6.67L-6.88,6.29L-7.63,5.85L-8.28,5.37L-8.85,4.79L-9.38,4.12L-9.81,3.42L-10.12,2.75Z"/><path d="M-10.25,-5.62L12.32,-8.51L12.32,-0.71L-10.25,2.18Z"/><path d="M-10.25,-5.62L-10.23,-6.03L-10.09,-6.35L-9.8,-6.63L-9.33,-6.94L-8.65,-7.36L-7.65,-7.93L-6.33,-8.62L-4.89,-9.35L-3.51,-10.01L-2.39,-10.52L-1.65,-10.86L-1.16,-11.09L-0.74,-11.24L-0.21,-11.35L0.62,-11.45L1.87,-11.55L3.44,-11.63L5.11,-11.67L6.67,-11.66L7.92,-11.59L8.82,-11.43L9.49,-11.21L10.02,-10.94L10.46,-10.62L10.88,-10.27L11.33,-9.89L11.78,-9.47L12.14,-9.02L12.32,-8.51L12.25,-7.94L11.88,-7.29L11.24,-6.54L10.44,-5.76L9.55,-4.99L8.66,-4.28L7.72,-3.61L6.67,-2.95L5.59,-2.32L4.55,-1.76L3.63,-1.3L2.86,-0.95L2.21,-0.68L1.6,-0.48L0.97,-0.34L0.24,-0.25L-0.62,-0.2L-1.55,-0.2L-2.51,-0.25L-3.47,-0.37L-4.36,-0.56L-5.22,-0.81L-6.07,-1.13L-6.88,-1.51L-7.63,-1.95L-8.28,-2.43L-8.85,-3.01L-9.38,-3.68L-9.81,-4.38L-10.12,-5.05Z"/></g><path d="M-10.25,2.18L-10.23,1.77L-10.09,1.45L-9.8,1.17L-9.33,0.86L-8.65,0.44L-7.65,-0.13L-6.33,-0.82L-4.89,-1.55L-3.51,-2.21L-2.39,-2.72L-1.65,-3.06L-1.16,-3.29L-0.74,-3.44L-0.21,-3.55L0.62,-3.65L1.87,-3.75L3.44,-3.83L5.11,-3.87L6.67,-3.86L7.92,-3.79L8.82,-3.63L9.49,-3.41L10.02,-3.14L10.46,-2.82L10.88,-2.47L11.33,-2.09L11.78,-1.67L12.14,-1.22L12.32,-0.71L12.25,-0.14L11.88,0.51L11.24,1.26L10.44,2.04L9.55,2.81L8.66,3.52L7.72,4.19L6.67,4.85L5.59,5.48L4.55,6.04L3.63,6.5L2.86,6.85L2.21,7.12L1.6,7.32L0.97,7.46L0.24,7.55L-0.62,7.6L-1.55,7.6L-2.51,7.55L-3.47,7.43L-4.36,7.24L-5.22,6.99L-6.07,6.67L-6.88,6.29L-7.63,5.85L-8.28,5.37L-8.85,4.79L-9.38,4.12L-9.81,3.42L-10.12,2.75Z" fill="url(#sg-red)"/><path d="M-10.25,-5.62L12.32,-8.51L12.32,-0.71L-10.25,2.18Z" fill="url(#sg-red)"/><path d="M-10.25,-5.62L-10.23,-6.03L-10.09,-6.35L-9.8,-6.63L-9.33,-6.94L-8.65,-7.36L-7.65,-7.93L-6.33,-8.62L-4.89,-9.35L-3.51,-10.01L-2.39,-10.52L-1.65,-10.86L-1.16,-11.09L-0.74,-11.24L-0.21,-11.35L0.62,-11.45L1.87,-11.55L3.44,-11.63L5.11,-11.67L6.67,-11.66L7.92,-11.59L8.82,-11.43L9.49,-11.21L10.02,-10.94L10.46,-10.62L10.88,-10.27L11.33,-9.89L11.78,-9.47L12.14,-9.02L12.32,-8.51L12.25,-7.94L11.88,-7.29L11.24,-6.54L10.44,-5.76L9.55,-4.99L8.66,-4.28L7.72,-3.61L6.67,-2.95L5.59,-2.32L4.55,-1.76L3.63,-1.3L2.86,-0.95L2.21,-0.68L1.6,-0.48L0.97,-0.34L0.24,-0.25L-0.62,-0.2L-1.55,-0.2L-2.51,-0.25L-3.47,-0.37L-4.36,-0.56L-5.22,-0.81L-6.07,-1.13L-6.88,-1.51L-7.63,-1.95L-8.28,-2.43L-8.85,-3.01L-9.38,-3.68L-9.81,-4.38L-10.12,-5.05Z" fill="#F0502A"/></g><text transform="translate(192.8,104.6) scale(0.9,0.91)" text-anchor="middle" font-weight="bold" fill="#fff">C5</text><g transform="translate(281.2,90)" stroke-linejoin="round"><g fill="#0C4412" stroke="#0C4412" stroke-width="1.6"><path d="M-6.9,-7.4L-4.3,-8.6L-1.5,-5.6L-1.3,-2.2L3.9,1.8L3.7,5L-6.9,-0.8Z"/><path d="M-4.3,-8.6L0.5,-11.3L3.1,-8.8L-1.5,-5.6Z"/><path d="M-1.5,-5.6L3.1,-8.8L3.2,-5.4L-1.3,-2.2Z"/><path d="M-1.3,-2.2L3.2,-5.4L9.1,-1.4L3.9,1.8Z"/><path d="M3.9,1.8L9.1,-1.4L8.9,2L3.7,5Z"/></g><path d="M-6.9,-7.4L-4.3,-8.6L-1.5,-5.6L-1.3,-2.2L3.9,1.8L3.7,5L-6.9,-0.8Z" fill="#1C8626"/><path d="M-4.3,-8.6L0.5,-11.3L3.1,-8.8L-1.5,-5.6Z" fill="#40D850"/><path d="M-1.5,-5.6L3.1,-8.8L3.2,-5.4L-1.3,-2.2Z" fill="#26AE32"/><path d="M-1.3,-2.2L3.2,-5.4L9.1,-1.4L3.9,1.8Z" fill="#40D850"/><path d="M3.9,1.8L9.1,-1.4L8.9,2L3.7,5Z" fill="#26AE32"/></g><text transform="translate(281.2,104.6) scale(0.9,0.91)" text-anchor="middle" font-weight="bold" fill="#000">C7</text><g transform="translate(369.6,90)" stroke-linejoin="round"><g fill="#4A0608" stroke="#4A0608" stroke-width="1.6"><path d="M-3,-7.4L7.7,-2.1L2.5,0.6L-5.9,-3.5Z"/><path d="M-5.9,-3.5L2.5,0.6L2,5.2L-6,0.7Z"/><path d="M2.5,0.6L7.7,-2.1L7.5,2.2L2,5.2Z"/></g><path d="M-3,-7.4L7.7,-2.1L2.5,0.6L-5.9,-3.5Z" fill="#F0502A"/><path d="M-5.9,-3.5L2.5,0.6L2,5.2L-6,0.7Z" fill="#7E0C10"/><path d="M2.5,0.6L7.7,-2.1L7.5,2.2L2,5.2Z" fill="#D01218"/></g><text transform="translate(369.6,104.6) scale(0.9,0.91)" text-anchor="middle" font-weight="bold" fill="#fff">C9</text><text transform="translate(458,104.6) scale(0.87,0.91)" text-anchor="middle" fill="#727272">C11</text><text transform="translate(38.1,137.6) scale(0.87,0.91)" text-anchor="middle" fill="#8CE292">D1</text><g transform="translate(82.3,123)" stroke-linejoin="round"><g fill="#2C2A00" stroke="#2C2A00" stroke-width="1.6"><path d="M-3,-7.4L7.7,-2.1L2.5,0.6L-5.9,-3.5Z"/><path d="M-5.9,-3.5L2.5,0.6L2,5.2L-6,0.7Z"/><path d="M2.5,0.6L7.7,-2.1L7.5,2.2L2,5.2Z"/></g><path d="M-3,-7.4L7.7,-2.1L2.5,0.6L-5.9,-3.5Z" fill="#F8EE44"/><path d="M-5.9,-3.5L2.5,0.6L2,5.2L-6,0.7Z" fill="#9E9608"/><path d="M2.5,0.6L7.7,-2.1L7.5,2.2L2,5.2Z" fill="#D6CA10"/></g><text transform="translate(82.3,137.6) scale(0.9,0.91)" text-anchor="middle" font-weight="bold" fill="#000">D2</text><g transform="translate(126.5,123)" stroke-linejoin="round"><g fill="#2C2A00" stroke="#2C2A00" stroke-width="1.6"><path d="M-6.9,-7.4L-4.3,-8.6L-1.5,-5.6L-1.3,-2.2L3.9,1.8L3.7,5L-6.9,-0.8Z"/><path d="M-4.3,-8.6L0.5,-11.3L3.1,-8.8L-1.5,-5.6Z"/><path d="M-1.5,-5.6L3.1,-8.8L3.2,-5.4L-1.3,-2.2Z"/><path d="M-1.3,-2.2L3.2,-5.4L9.1,-1.4L3.9,1.8Z"/><path d="M3.9,1.8L9.1,-1.4L8.9,2L3.7,5Z"/></g><path d="M-6.9,-7.4L-4.3,-8.6L-1.5,-5.6L-1.3,-2.2L3.9,1.8L3.7,5L-6.9,-0.8Z" fill="#9E9608"/><path d="M-4.3,-8.6L0.5,-11.3L3.1,-8.8L-1.5,-5.6Z" fill="#F8EE44"/><path d="M-1.5,-5.6L3.1,-8.8L3.2,-5.4L-1.3,-2.2Z" fill="#D6CA10"/><path d="M-1.3,-2.2L3.2,-5.4L9.1,-1.4L3.9,1.8Z" fill="#F8EE44"/><path d="M3.9,1.8L9.1,-1.4L8.9,2L3.7,5Z" fill="#D6CA10"/></g><text transform="translate(126.5,137.6) scale(0.9,0.91)" text-anchor="middle" font-weight="bold" fill="#000">D3</text><g transform="translate(259.1,123)" stroke-linejoin="round"><g fill="#4A0608" stroke="#4A0608" stroke-width="1.6"><path d="M-9.8,-7.8L-9.44,-7.77L-8.42,-7.58L-6.89,-7.16L-5.08,-6.49L-3.25,-5.6L-1.62,-4.61L-0.38,-3.63L0.39,-2.8L0.74,-2.24L0.8,-2.05L0.8,6.95L0.74,6.76L0.39,6.2L-0.38,5.37L-1.62,4.39L-3.25,3.4L-5.08,2.51L-6.89,1.84L-8.42,1.42L-9.44,1.23L-9.8,1.2Z"/><path d="M0.8,-2.05L0.86,-2.24L1.21,-2.8L1.98,-3.63L3.22,-4.61L4.85,-5.6L6.68,-6.49L8.49,-7.16L10.02,-7.58L11.04,-7.77L11.4,-7.8L11.4,1.2L11.04,1.23L10.02,1.42L8.49,1.84L6.68,2.51L4.85,3.4L3.22,4.39L1.98,5.37L1.21,6.2L0.86,6.76L0.8,6.95Z"/><path d="M11.4,-7.8L10.96,-7.81L9.72,-7.9L7.92,-8.18L5.9,-8.72L4.01,-9.54L2.5,-10.57L1.5,-11.66L0.98,-12.64L0.82,-13.31L0.8,-13.55L0.78,-13.31L0.62,-12.64L0.1,-11.66L-0.9,-10.57L-2.41,-9.54L-4.3,-8.72L-6.32,-8.18L-8.12,-7.9L-9.36,-7.81L-9.8,-7.8L-9.44,-7.77L-8.42,-7.58L-6.89,-7.16L-5.08,-6.49L-3.25,-5.6L-1.62,-4.61L-0.38,-3.63L0.39,-2.8L0.74,-2.24L0.8,-2.05L0.86,-2.24L1.21,-2.8L1.98,-3.63L3.22,-4.61L4.85,-5.6L6.68,-6.49L8.49,-7.16L10.02,-7.58L11.04,-7.77Z"/></g><path d="M-9.8,-7.8L-9.44,-7.77L-8.42,-7.58L-6.89,-7.16L-5.08,-6.49L-3.25,-5.6L-1.62,-4.61L-0.38,-3.63L0.39,-2.8L0.74,-2.24L0.8,-2.05L0.8,6.95L0.74,6.76L0.39,6.2L-0.38,5.37L-1.62,4.39L-3.25,3.4L-5.08,2.51L-6.89,1.84L-8.42,1.42L-9.44,1.23L-9.8,1.2Z" fill="#7E0C10"/><path d="M0.8,-2.05L0.86,-2.24L1.21,-2.8L1.98,-3.63L3.22,-4.61L4.85,-5.6L6.68,-6.49L8.49,-7.16L10.02,-7.58L11.04,-7.77L11.4,-7.8L11.4,1.2L11.04,1.23L10.02,1.42L8.49,1.84L6.68,2.51L4.85,3.4L3.22,4.39L1.98,5.37L1.21,6.2L0.86,6.76L0.8,6.95Z" fill="#D01218"/><path d="M11.4,-7.8L10.96,-7.81L9.72,-7.9L7.92,-8.18L5.9,-8.72L4.01,-9.54L2.5,-10.57L1.5,-11.66L0.98,-12.64L0.82,-13.31L0.8,-13.55L0.78,-13.31L0.62,-12.64L0.1,-11.66L-0.9,-10.57L-2.41,-9.54L-4.3,-8.72L-6.32,-8.18L-8.12,-7.9L-9.36,-7.81L-9.8,-7.8L-9.44,-7.77L-8.42,-7.58L-6.89,-7.16L-5.08,-6.49L-3.25,-5.6L-1.62,-4.61L-0.38,-3.63L0.39,-2.8L0.74,-2.24L0.8,-2.05L0.86,-2.24L1.21,-2.8L1.98,-3.63L3.22,-4.61L4.85,-5.6L6.68,-6.49L8.49,-7.16L10.02,-7.58L11.04,-7.77Z" fill="#F0502A"/></g><text transform="translate(259.1,137.6) scale(0.9,0.91)" text-anchor="middle" font-weight="bold" fill="#fff">D6</text><g transform="translate(303.3,123)" stroke-linejoin="round"><g fill="#0C4412" stroke="#0C4412" stroke-width="1.6"><path d="M-8.7,-5.4 L-8.7,1 A8.7,3.6 0 0 0 8.7,1 L8.7,-5.4 Z"/><path d="M-8.7,-5.4 A8.7,3.6 0 1 1 8.7,-5.4 A8.7,3.6 0 1 1 -8.7,-5.4 Z"/></g><path d="M-8.7,-5.4 L-8.7,1 A8.7,3.6 0 0 0 8.7,1 L8.7,-5.4 Z" fill="url(#cg-green)"/><path d="M-8.7,-5.4 A8.7,3.6 0 1 1 8.7,-5.4 A8.7,3.6 0 1 1 -8.7,-5.4 Z" fill="#40D850"/></g><text transform="translate(303.3,137.6) scale(0.9,0.91)" text-anchor="middle" font-weight="bold" fill="#000">D7</text><g transform="translate(391.7,123)" stroke-linejoin="round"><g fill="#4A0608" stroke="#4A0608" stroke-width="1.6"><path d="M-3,-7.4L7.7,-2.1L2.5,0.6L-5.9,-3.5Z"/><path d="M-5.9,-3.5L2.5,0.6L2,5.2L-6,0.7Z"/><path d="M2.5,0.6L7.7,-2.1L7.5,2.2L2,5.2Z"/></g><path d="M-3,-7.4L7.7,-2.1L2.5,0.6L-5.9,-3.5Z" fill="#F0502A"/><path d="M-5.9,-3.5L2.5,0.6L2,5.2L-6,0.7Z" fill="#7E0C10"/><path d="M2.5,0.6L7.7,-2.1L7.5,2.2L2,5.2Z" fill="#D01218"/></g><text transform="translate(391.7,137.6) scale(0.9,0.91)" text-anchor="middle" font-weight="bold" fill="#fff">D9</text><text transform="translate(480.1,137.6) scale(0.87,0.91)" text-anchor="middle" fill="#F0868C">D11</text><text transform="translate(524.3,137.6) scale(0.87,0.91)" text-anchor="middle" fill="#C7A785">D12</text><text transform="translate(16,170.6) scale(0.87,0.91)" text-anchor="middle" fill="#585858">E1</text><g transform="translate(60.2,156)" stroke-linejoin="round"><g fill="#2C2A00" stroke="#2C2A00" stroke-width="1.6"><path d="M-3,-7.4L7.7,-2.1L2.5,0.6L-5.9,-3.5Z"/><path d="M-5.9,-3.5L2.5,0.6L2,5.2L-6,0.7Z"/><path d="M2.5,0.6L7.7,-2.1L7.5,2.2L2,5.2Z"/></g><path d="M-3,-7.4L7.7,-2.1L2.5,0.6L-5.9,-3.5Z" fill="#F8EE44"/><path d="M-5.9,-3.5L2.5,0.6L2,5.2L-6,0.7Z" fill="#9E9608"/><path d="M2.5,0.6L7.7,-2.1L7.5,2.2L2,5.2Z" fill="#D6CA10"/></g><text transform="translate(60.2,170.6) scale(0.9,0.91)" text-anchor="middle" font-weight="bold" fill="#000">E2</text><g transform="translate(104.4,156)" stroke-linejoin="round"><g fill="#2C2A00" stroke="#2C2A00" stroke-width="1.6"><path d="M-8.7,-5.4 L-8.7,1 A8.7,3.6 0 0 0 8.7,1 L8.7,-5.4 Z"/><path d="M-8.7,-5.4 A8.7,3.6 0 1 1 8.7,-5.4 A8.7,3.6 0 1 1 -8.7,-5.4 Z"/></g><path d="M-8.7,-5.4 L-8.7,1 A8.7,3.6 0 0 0 8.7,1 L8.7,-5.4 Z" fill="url(#cg-yellow)"/><path d="M-8.7,-5.4 A8.7,3.6 0 1 1 8.7,-5.4 A8.7,3.6 0 1 1 -8.7,-5.4 Z" fill="#F8EE44"/></g><text transform="translate(104.4,170.6) scale(0.9,0.91)" text-anchor="middle" font-weight="bold" fill="#000">E3</text><g transform="translate(148.6,156)" stroke-linejoin="round"><g fill="#4A0608" stroke="#4A0608" stroke-width="1.6"><path d="M-8.7,-5.4 L-8.7,1 A8.7,3.6 0 0 0 8.7,1 L8.7,-5.4 Z"/><path d="M-8.7,-5.4 A8.7,3.6 0 1 1 8.7,-5.4 A8.7,3.6 0 1 1 -8.7,-5.4 Z"/></g><path d="M-8.7,-5.4 L-8.7,1 A8.7,3.6 0 0 0 8.7,1 L8.7,-5.4 Z" fill="url(#cg-red)"/><path d="M-8.7,-5.4 A8.7,3.6 0 1 1 8.7,-5.4 A8.7,3.6 0 1 1 -8.7,-5.4 Z" fill="#F0502A"/></g><text transform="translate(148.6,170.6) scale(0.87,0.91)" text-anchor="middle" fill="#F0868C">E4</text><g transform="translate(192.8,156)" stroke-linejoin="round"><g fill="#2C2A00" stroke="#2C2A00" stroke-width="1.6"><path d="M-3,-7.4L7.7,-2.1L2.5,0.6L-5.9,-3.5Z"/><path d="M-5.9,-3.5L2.5,0.6L2,5.2L-6,0.7Z"/><path d="M2.5,0.6L7.7,-2.1L7.5,2.2L2,5.2Z"/></g><path d="M-3,-7.4L7.7,-2.1L2.5,0.6L-5.9,-3.5Z" fill="#F8EE44"/><path d="M-5.9,-3.5L2.5,0.6L2,5.2L-6,0.7Z" fill="#9E9608"/><path d="M2.5,0.6L7.7,-2.1L7.5,2.2L2,5.2Z" fill="#D6CA10"/></g><text transform="translate(192.8,170.6) scale(0.9,0.91)" text-anchor="middle" font-weight="bold" fill="#000">E5</text><g transform="translate(237,156)" stroke-linejoin="round"><g fill="#2E1C08" stroke="#2E1C08" stroke-width="1.6"><path d="M-3,-7.4L7.7,-2.1L2.5,0.6L-5.9,-3.5Z"/><path d="M-5.9,-3.5L2.5,0.6L2,5.2L-6,0.7Z"/><path d="M2.5,0.6L7.7,-2.1L7.5,2.2L2,5.2Z"/></g><path d="M-3,-7.4L7.7,-2.1L2.5,0.6L-5.9,-3.5Z" fill="#9E6A34"/><path d="M-5.9,-3.5L2.5,0.6L2,5.2L-6,0.7Z" fill="#764616"/><path d="M2.5,0.6L7.7,-2.1L7.5,2.2L2,5.2Z" fill="#875322"/></g><text transform="translate(237,170.6) scale(0.87,0.91)" text-anchor="middle" fill="#C7A785">E6</text><g transform="translate(281.2,156)" stroke-linejoin="round"><g fill="#0C4412" stroke="#0C4412" stroke-width="1.6"><path d="M-3,-7.4L7.7,-2.1L2.5,0.6L-5.9,-3.5Z"/><path d="M-5.9,-3.5L2.5,0.6L2,5.2L-6,0.7Z"/><path d="M2.5,0.6L7.7,-2.1L7.5,2.2L2,5.2Z"/></g><path d="M-3,-7.4L7.7,-2.1L2.5,0.6L-5.9,-3.5Z" fill="#40D850"/><path d="M-5.9,-3.5L2.5,0.6L2,5.2L-6,0.7Z" fill="#1C8626"/><path d="M2.5,0.6L7.7,-2.1L7.5,2.2L2,5.2Z" fill="#26AE32"/></g><text transform="translate(281.2,170.6) scale(0.9,0.91)" text-anchor="middle" font-weight="bold" fill="#000">E7</text><g transform="translate(325.4,156)" stroke-linejoin="round"><g fill="#0C4412" stroke="#0C4412" stroke-width="1.6"><path d="M-3,-7.4L7.7,-2.1L2.5,0.6L-5.9,-3.5Z"/><path d="M-5.9,-3.5L2.5,0.6L2,5.2L-6,0.7Z"/><path d="M2.5,0.6L7.7,-2.1L7.5,2.2L2,5.2Z"/></g><path d="M-3,-7.4L7.7,-2.1L2.5,0.6L-5.9,-3.5Z" fill="#40D850"/><path d="M-5.9,-3.5L2.5,0.6L2,5.2L-6,0.7Z" fill="#1C8626"/><path d="M2.5,0.6L7.7,-2.1L7.5,2.2L2,5.2Z" fill="#26AE32"/></g><text transform="translate(325.4,170.6) scale(0.9,0.91)" text-anchor="middle" font-weight="bold" fill="#000">E8</text><text transform="translate(458,170.6) scale(0.87,0.91)" text-anchor="middle" fill="#8CE292">E11</text><text transform="translate(502.2,170.6) scale(0.87,0.91)" text-anchor="middle" fill="#585858">E12</text><text transform="translate(546.4,170.6) scale(0.87,0.91)" text-anchor="middle" fill="#1A78B2">E13</text><text transform="translate(38.1,203.6) scale(0.87,0.91)" text-anchor="middle" fill="#727272">F1</text><g transform="translate(82.3,189)" stroke-linejoin="round"><g fill="#2C2A00" stroke="#2C2A00" stroke-width="1.6"><path d="M-3,-7.4L7.7,-2.1L2.5,0.6L-5.9,-3.5Z"/><path d="M-5.9,-3.5L2.5,0.6L2,5.2L-6,0.7Z"/><path d="M2.5,0.6L7.7,-2.1L7.5,2.2L2,5.2Z"/></g><path d="M-3,-7.4L7.7,-2.1L2.5,0.6L-5.9,-3.5Z" fill="#F8EE44"/><path d="M-5.9,-3.5L2.5,0.6L2,5.2L-6,0.7Z" fill="#9E9608"/><path d="M2.5,0.6L7.7,-2.1L7.5,2.2L2,5.2Z" fill="#D6CA10"/></g><text transform="translate(82.3,203.6) scale(0.9,0.91)" text-anchor="middle" font-weight="bold" fill="#000">F2</text><g transform="translate(214.9,189)" stroke-linejoin="round"><g fill="#2C2A00" stroke="#2C2A00" stroke-width="1.6"><path d="M-9.8,-7.8L-9.44,-7.77L-8.42,-7.58L-6.89,-7.16L-5.08,-6.49L-3.25,-5.6L-1.62,-4.61L-0.38,-3.63L0.39,-2.8L0.74,-2.24L0.8,-2.05L0.8,6.95L0.74,6.76L0.39,6.2L-0.38,5.37L-1.62,4.39L-3.25,3.4L-5.08,2.51L-6.89,1.84L-8.42,1.42L-9.44,1.23L-9.8,1.2Z"/><path d="M0.8,-2.05L0.86,-2.24L1.21,-2.8L1.98,-3.63L3.22,-4.61L4.85,-5.6L6.68,-6.49L8.49,-7.16L10.02,-7.58L11.04,-7.77L11.4,-7.8L11.4,1.2L11.04,1.23L10.02,1.42L8.49,1.84L6.68,2.51L4.85,3.4L3.22,4.39L1.98,5.37L1.21,6.2L0.86,6.76L0.8,6.95Z"/><path d="M11.4,-7.8L10.96,-7.81L9.72,-7.9L7.92,-8.18L5.9,-8.72L4.01,-9.54L2.5,-10.57L1.5,-11.66L0.98,-12.64L0.82,-13.31L0.8,-13.55L0.78,-13.31L0.62,-12.64L0.1,-11.66L-0.9,-10.57L-2.41,-9.54L-4.3,-8.72L-6.32,-8.18L-8.12,-7.9L-9.36,-7.81L-9.8,-7.8L-9.44,-7.77L-8.42,-7.58L-6.89,-7.16L-5.08,-6.49L-3.25,-5.6L-1.62,-4.61L-0.38,-3.63L0.39,-2.8L0.74,-2.24L0.8,-2.05L0.86,-2.24L1.21,-2.8L1.98,-3.63L3.22,-4.61L4.85,-5.6L6.68,-6.49L8.49,-7.16L10.02,-7.58L11.04,-7.77Z"/></g><path d="M-9.8,-7.8L-9.44,-7.77L-8.42,-7.58L-6.89,-7.16L-5.08,-6.49L-3.25,-5.6L-1.62,-4.61L-0.38,-3.63L0.39,-2.8L0.74,-2.24L0.8,-2.05L0.8,6.95L0.74,6.76L0.39,6.2L-0.38,5.37L-1.62,4.39L-3.25,3.4L-5.08,2.51L-6.89,1.84L-8.42,1.42L-9.44,1.23L-9.8,1.2Z" fill="#9E9608"/><path d="M0.8,-2.05L0.86,-2.24L1.21,-2.8L1.98,-3.63L3.22,-4.61L4.85,-5.6L6.68,-6.49L8.49,-7.16L10.02,-7.58L11.04,-7.77L11.4,-7.8L11.4,1.2L11.04,1.23L10.02,1.42L8.49,1.84L6.68,2.51L4.85,3.4L3.22,4.39L1.98,5.37L1.21,6.2L0.86,6.76L0.8,6.95Z" fill="#D6CA10"/><path d="M11.4,-7.8L10.96,-7.81L9.72,-7.9L7.92,-8.18L5.9,-8.72L4.01,-9.54L2.5,-10.57L1.5,-11.66L0.98,-12.64L0.82,-13.31L0.8,-13.55L0.78,-13.31L0.62,-12.64L0.1,-11.66L-0.9,-10.57L-2.41,-9.54L-4.3,-8.72L-6.32,-8.18L-8.12,-7.9L-9.36,-7.81L-9.8,-7.8L-9.44,-7.77L-8.42,-7.58L-6.89,-7.16L-5.08,-6.49L-3.25,-5.6L-1.62,-4.61L-0.38,-3.63L0.39,-2.8L0.74,-2.24L0.8,-2.05L0.86,-2.24L1.21,-2.8L1.98,-3.63L3.22,-4.61L4.85,-5.6L6.68,-6.49L8.49,-7.16L10.02,-7.58L11.04,-7.77Z" fill="#F8EE44"/></g><text transform="translate(214.9,203.6) scale(0.9,0.91)" text-anchor="middle" font-weight="bold" fill="#000">F5</text><g transform="translate(259.1,189)" stroke-linejoin="round"><g fill="#0C4412" stroke="#0C4412" stroke-width="1.6"><path d="M-6.9,-7.4L-4.3,-8.6L-1.5,-5.6L-1.3,-2.2L3.9,1.8L3.7,5L-6.9,-0.8Z"/><path d="M-4.3,-8.6L0.5,-11.3L3.1,-8.8L-1.5,-5.6Z"/><path d="M-1.5,-5.6L3.1,-8.8L3.2,-5.4L-1.3,-2.2Z"/><path d="M-1.3,-2.2L3.2,-5.4L9.1,-1.4L3.9,1.8Z"/><path d="M3.9,1.8L9.1,-1.4L8.9,2L3.7,5Z"/></g><path d="M-6.9,-7.4L-4.3,-8.6L-1.5,-5.6L-1.3,-2.2L3.9,1.8L3.7,5L-6.9,-0.8Z" fill="#1C8626"/><path d="M-4.3,-8.6L0.5,-11.3L3.1,-8.8L-1.5,-5.6Z" fill="#40D850"/><path d="M-1.5,-5.6L3.1,-8.8L3.2,-5.4L-1.3,-2.2Z" fill="#26AE32"/><path d="M-1.3,-2.2L3.2,-5.4L9.1,-1.4L3.9,1.8Z" fill="#40D850"/><path d="M3.9,1.8L9.1,-1.4L8.9,2L3.7,5Z" fill="#26AE32"/></g><text transform="translate(259.1,203.6) scale(0.9,0.91)" text-anchor="middle" font-weight="bold" fill="#000">F6</text><g transform="translate(435.9,189)" stroke-linejoin="round"><g fill="#2C2A00" stroke="#2C2A00" stroke-width="1.6"><path d="M-3,-7.4L7.7,-2.1L2.5,0.6L-5.9,-3.5Z"/><path d="M-5.9,-3.5L2.5,0.6L2,5.2L-6,0.7Z"/><path d="M2.5,0.6L7.7,-2.1L7.5,2.2L2,5.2Z"/></g><path d="M-3,-7.4L7.7,-2.1L2.5,0.6L-5.9,-3.5Z" fill="#F8EE44"/><path d="M-5.9,-3.5L2.5,0.6L2,5.2L-6,0.7Z" fill="#9E9608"/><path d="M2.5,0.6L7.7,-2.1L7.5,2.2L2,5.2Z" fill="#D6CA10"/></g><text transform="translate(435.9,203.6) scale(0.87,0.91)" text-anchor="middle" fill="#C3B708">F10</text><text transform="translate(480.1,203.6) scale(0.87,0.91)" text-anchor="middle" fill="#727272">F11</text><text transform="translate(524.3,203.6) scale(0.87,0.91)" text-anchor="middle" fill="#DBC8B2">F12</text><text transform="translate(148.6,236.6) scale(0.87,0.91)" text-anchor="middle" fill="#727272">G4</text><g transform="translate(237,222)" stroke-linejoin="round"><g fill="#2C2A00" stroke="#2C2A00" stroke-width="1.6"><path d="M-10.25,2.18L-10.23,1.77L-10.09,1.45L-9.8,1.17L-9.33,0.86L-8.65,0.44L-7.65,-0.13L-6.33,-0.82L-4.89,-1.55L-3.51,-2.21L-2.39,-2.72L-1.65,-3.06L-1.16,-3.29L-0.74,-3.44L-0.21,-3.55L0.62,-3.65L1.87,-3.75L3.44,-3.83L5.11,-3.87L6.67,-3.86L7.92,-3.79L8.82,-3.63L9.49,-3.41L10.02,-3.14L10.46,-2.82L10.88,-2.47L11.33,-2.09L11.78,-1.67L12.14,-1.22L12.32,-0.71L12.25,-0.14L11.88,0.51L11.24,1.26L10.44,2.04L9.55,2.81L8.66,3.52L7.72,4.19L6.67,4.85L5.59,5.48L4.55,6.04L3.63,6.5L2.86,6.85L2.21,7.12L1.6,7.32L0.97,7.46L0.24,7.55L-0.62,7.6L-1.55,7.6L-2.51,7.55L-3.47,7.43L-4.36,7.24L-5.22,6.99L-6.07,6.67L-6.88,6.29L-7.63,5.85L-8.28,5.37L-8.85,4.79L-9.38,4.12L-9.81,3.42L-10.12,2.75Z"/><path d="M-10.25,-5.62L12.32,-8.51L12.32,-0.71L-10.25,2.18Z"/><path d="M-10.25,-5.62L-10.23,-6.03L-10.09,-6.35L-9.8,-6.63L-9.33,-6.94L-8.65,-7.36L-7.65,-7.93L-6.33,-8.62L-4.89,-9.35L-3.51,-10.01L-2.39,-10.52L-1.65,-10.86L-1.16,-11.09L-0.74,-11.24L-0.21,-11.35L0.62,-11.45L1.87,-11.55L3.44,-11.63L5.11,-11.67L6.67,-11.66L7.92,-11.59L8.82,-11.43L9.49,-11.21L10.02,-10.94L10.46,-10.62L10.88,-10.27L11.33,-9.89L11.78,-9.47L12.14,-9.02L12.32,-8.51L12.25,-7.94L11.88,-7.29L11.24,-6.54L10.44,-5.76L9.55,-4.99L8.66,-4.28L7.72,-3.61L6.67,-2.95L5.59,-2.32L4.55,-1.76L3.63,-1.3L2.86,-0.95L2.21,-0.68L1.6,-0.48L0.97,-0.34L0.24,-0.25L-0.62,-0.2L-1.55,-0.2L-2.51,-0.25L-3.47,-0.37L-4.36,-0.56L-5.22,-0.81L-6.07,-1.13L-6.88,-1.51L-7.63,-1.95L-8.28,-2.43L-8.85,-3.01L-9.38,-3.68L-9.81,-4.38L-10.12,-5.05Z"/></g><path d="M-10.25,2.18L-10.23,1.77L-10.09,1.45L-9.8,1.17L-9.33,0.86L-8.65,0.44L-7.65,-0.13L-6.33,-0.82L-4.89,-1.55L-3.51,-2.21L-2.39,-2.72L-1.65,-3.06L-1.16,-3.29L-0.74,-3.44L-0.21,-3.55L0.62,-3.65L1.87,-3.75L3.44,-3.83L5.11,-3.87L6.67,-3.86L7.92,-3.79L8.82,-3.63L9.49,-3.41L10.02,-3.14L10.46,-2.82L10.88,-2.47L11.33,-2.09L11.78,-1.67L12.14,-1.22L12.32,-0.71L12.25,-0.14L11.88,0.51L11.24,1.26L10.44,2.04L9.55,2.81L8.66,3.52L7.72,4.19L6.67,4.85L5.59,5.48L4.55,6.04L3.63,6.5L2.86,6.85L2.21,7.12L1.6,7.32L0.97,7.46L0.24,7.55L-0.62,7.6L-1.55,7.6L-2.51,7.55L-3.47,7.43L-4.36,7.24L-5.22,6.99L-6.07,6.67L-6.88,6.29L-7.63,5.85L-8.28,5.37L-8.85,4.79L-9.38,4.12L-9.81,3.42L-10.12,2.75Z" fill="url(#sg-yellow)"/><path d="M-10.25,-5.62L12.32,-8.51L12.32,-0.71L-10.25,2.18Z" fill="url(#sg-yellow)"/><path d="M-10.25,-5.62L-10.23,-6.03L-10.09,-6.35L-9.8,-6.63L-9.33,-6.94L-8.65,-7.36L-7.65,-7.93L-6.33,-8.62L-4.89,-9.35L-3.51,-10.01L-2.39,-10.52L-1.65,-10.86L-1.16,-11.09L-0.74,-11.24L-0.21,-11.35L0.62,-11.45L1.87,-11.55L3.44,-11.63L5.11,-11.67L6.67,-11.66L7.92,-11.59L8.82,-11.43L9.49,-11.21L10.02,-10.94L10.46,-10.62L10.88,-10.27L11.33,-9.89L11.78,-9.47L12.14,-9.02L12.32,-8.51L12.25,-7.94L11.88,-7.29L11.24,-6.54L10.44,-5.76L9.55,-4.99L8.66,-4.28L7.72,-3.61L6.67,-2.95L5.59,-2.32L4.55,-1.76L3.63,-1.3L2.86,-0.95L2.21,-0.68L1.6,-0.48L0.97,-0.34L0.24,-0.25L-0.62,-0.2L-1.55,-0.2L-2.51,-0.25L-3.47,-0.37L-4.36,-0.56L-5.22,-0.81L-6.07,-1.13L-6.88,-1.51L-7.63,-1.95L-8.28,-2.43L-8.85,-3.01L-9.38,-3.68L-9.81,-4.38L-10.12,-5.05Z" fill="#F8EE44"/></g><text transform="translate(237,236.6) scale(0.9,0.91)" text-anchor="middle" font-weight="bold" fill="#000">G6</text><g transform="translate(325.4,222)" stroke-linejoin="round"><g fill="#0C4412" stroke="#0C4412" stroke-width="1.6"><path d="M-3,-7.4L7.7,-2.1L2.5,0.6L-5.9,-3.5Z"/><path d="M-5.9,-3.5L2.5,0.6L2,5.2L-6,0.7Z"/><path d="M2.5,0.6L7.7,-2.1L7.5,2.2L2,5.2Z"/></g><path d="M-3,-7.4L7.7,-2.1L2.5,0.6L-5.9,-3.5Z" fill="#40D850"/><path d="M-5.9,-3.5L2.5,0.6L2,5.2L-6,0.7Z" fill="#1C8626"/><path d="M2.5,0.6L7.7,-2.1L7.5,2.2L2,5.2Z" fill="#26AE32"/></g><text transform="translate(325.4,236.6) scale(0.87,0.91)" text-anchor="middle" fill="#8CE292">G8</text><g transform="translate(413.8,222)" stroke-linejoin="round"><g fill="#2C2A00" stroke="#2C2A00" stroke-width="1.6"><path d="M-3,-7.4L7.7,-2.1L2.5,0.6L-5.9,-3.5Z"/><path d="M-5.9,-3.5L2.5,0.6L2,5.2L-6,0.7Z"/><path d="M2.5,0.6L7.7,-2.1L7.5,2.2L2,5.2Z"/></g><path d="M-3,-7.4L7.7,-2.1L2.5,0.6L-5.9,-3.5Z" fill="#F8EE44"/><path d="M-5.9,-3.5L2.5,0.6L2,5.2L-6,0.7Z" fill="#9E9608"/><path d="M2.5,0.6L7.7,-2.1L7.5,2.2L2,5.2Z" fill="#D6CA10"/></g><text transform="translate(413.8,236.6) scale(0.87,0.91)" text-anchor="middle" fill="#C3B708">G10</text><text transform="translate(458,236.6) scale(0.87,0.91)" text-anchor="middle" fill="#C3B708">G11</text><text transform="translate(502.2,236.6) scale(0.87,0.91)" text-anchor="middle" fill="#1A78B2">G12</text><text transform="translate(546.4,236.6) scale(0.87,0.91)" text-anchor="middle" fill="#C3B708">G13</text><text transform="translate(38.1,269.6) scale(0.87,0.91)" text-anchor="middle" fill="#C3B708">H1</text><text transform="translate(82.3,269.6) scale(0.87,0.91)" text-anchor="middle" fill="#1A78B2">H2</text><text transform="translate(126.5,269.6) scale(0.87,0.91)" text-anchor="middle" fill="#DBC8B2">H3</text><g transform="translate(303.3,255)" stroke-linejoin="round"><g fill="#0C4412" stroke="#0C4412" stroke-width="1.6"><path d="M-3,-7.4L7.7,-2.1L2.5,0.6L-5.9,-3.5Z"/><path d="M-5.9,-3.5L2.5,0.6L2,5.2L-6,0.7Z"/><path d="M2.5,0.6L7.7,-2.1L7.5,2.2L2,5.2Z"/></g><path d="M-3,-7.4L7.7,-2.1L2.5,0.6L-5.9,-3.5Z" fill="#40D850"/><path d="M-5.9,-3.5L2.5,0.6L2,5.2L-6,0.7Z" fill="#1C8626"/><path d="M2.5,0.6L7.7,-2.1L7.5,2.2L2,5.2Z" fill="#26AE32"/></g><text transform="translate(303.3,269.6) scale(0.87,0.91)" text-anchor="middle" fill="#8CE292">H7</text><g transform="translate(347.5,255)" stroke-linejoin="round"><g fill="#0C4412" stroke="#0C4412" stroke-width="1.6"><path d="M-3,-7.4L7.7,-2.1L2.5,0.6L-5.9,-3.5Z"/><path d="M-5.9,-3.5L2.5,0.6L2,5.2L-6,0.7Z"/><path d="M2.5,0.6L7.7,-2.1L7.5,2.2L2,5.2Z"/></g><path d="M-3,-7.4L7.7,-2.1L2.5,0.6L-5.9,-3.5Z" fill="#40D850"/><path d="M-5.9,-3.5L2.5,0.6L2,5.2L-6,0.7Z" fill="#1C8626"/><path d="M2.5,0.6L7.7,-2.1L7.5,2.2L2,5.2Z" fill="#26AE32"/></g><text transform="translate(347.5,269.6) scale(0.87,0.91)" text-anchor="middle" fill="#8CE292">H8</text><g transform="translate(435.9,255)" stroke-linejoin="round"><g fill="#2C2A00" stroke="#2C2A00" stroke-width="1.6"><path d="M-3,-7.4L7.7,-2.1L2.5,0.6L-5.9,-3.5Z"/><path d="M-5.9,-3.5L2.5,0.6L2,5.2L-6,0.7Z"/><path d="M2.5,0.6L7.7,-2.1L7.5,2.2L2,5.2Z"/></g><path d="M-3,-7.4L7.7,-2.1L2.5,0.6L-5.9,-3.5Z" fill="#F8EE44"/><path d="M-5.9,-3.5L2.5,0.6L2,5.2L-6,0.7Z" fill="#9E9608"/><path d="M2.5,0.6L7.7,-2.1L7.5,2.2L2,5.2Z" fill="#D6CA10"/></g><text transform="translate(435.9,269.6) scale(0.87,0.91)" text-anchor="middle" fill="#C3B708">H10</text><text transform="translate(480.1,269.6) scale(0.87,0.91)" text-anchor="middle" fill="#DBC8B2">H11</text><text transform="translate(524.3,269.6) scale(0.87,0.91)" text-anchor="middle" fill="#727272">H12</text><text transform="translate(16,302.6) scale(0.87,0.91)" text-anchor="middle" fill="#F0868C">I1</text><text transform="translate(60.2,302.6) scale(0.87,0.91)" text-anchor="middle" fill="#585858">I2</text><text transform="translate(104.4,302.6) scale(0.87,0.91)" text-anchor="middle" fill="#727272">I3</text><text transform="translate(148.6,302.6) scale(0.87,0.91)" text-anchor="middle" fill="#1A78B2">I4</text><text transform="translate(192.8,302.6) scale(0.87,0.91)" text-anchor="middle" fill="#F0868C">I5</text><g transform="translate(237,288)" stroke-linejoin="round"><g fill="#0C4412" stroke="#0C4412" stroke-width="1.6"><path d="M-3,-7.4L7.7,-2.1L2.5,0.6L-5.9,-3.5Z"/><path d="M-5.9,-3.5L2.5,0.6L2,5.2L-6,0.7Z"/><path d="M2.5,0.6L7.7,-2.1L7.5,2.2L2,5.2Z"/></g><path d="M-3,-7.4L7.7,-2.1L2.5,0.6L-5.9,-3.5Z" fill="#40D850"/><path d="M-5.9,-3.5L2.5,0.6L2,5.2L-6,0.7Z" fill="#1C8626"/><path d="M2.5,0.6L7.7,-2.1L7.5,2.2L2,5.2Z" fill="#26AE32"/></g><text transform="translate(237,302.6) scale(0.87,0.91)" text-anchor="middle" fill="#8CE292">I6</text><text transform="translate(281.2,302.6) scale(0.87,0.91)" text-anchor="middle" fill="#C3B708">I7</text><text transform="translate(325.4,302.6) scale(0.87,0.91)" text-anchor="middle" fill="#C7A785">I8</text><g transform="translate(369.6,288)" stroke-linejoin="round"><g fill="#0C4412" stroke="#0C4412" stroke-width="1.6"><path d="M-3,-7.4L7.7,-2.1L2.5,0.6L-5.9,-3.5Z"/><path d="M-5.9,-3.5L2.5,0.6L2,5.2L-6,0.7Z"/><path d="M2.5,0.6L7.7,-2.1L7.5,2.2L2,5.2Z"/></g><path d="M-3,-7.4L7.7,-2.1L2.5,0.6L-5.9,-3.5Z" fill="#40D850"/><path d="M-5.9,-3.5L2.5,0.6L2,5.2L-6,0.7Z" fill="#1C8626"/><path d="M2.5,0.6L7.7,-2.1L7.5,2.2L2,5.2Z" fill="#26AE32"/></g><text transform="translate(369.6,302.6) scale(0.87,0.91)" text-anchor="middle" fill="#8CE292">I9</text><text transform="translate(458,302.6) scale(0.87,0.91)" text-anchor="middle" fill="#1A78B2">I11</text><text transform="translate(502.2,302.6) scale(0.87,0.91)" text-anchor="middle" fill="#8CE292">I12</text><text transform="translate(546.4,302.6) scale(0.87,0.91)" text-anchor="middle" fill="#F0868C">I13</text></svg><svg width="171" height="322" viewBox="578 0 171 322" style="position:absolute;left:578px;top:0"><rect x="581.4" y="1.2" width="42.15" height="294" rx="3" ry="3" fill="#FF6644"/><rect x="581.6" y="296.2" width="41.25" height="20.5" rx="2.8" ry="2.8" fill="#808080"/><rect x="623.25" y="1.2" width="42.15" height="294" rx="3" ry="3" fill="#9999FF"/><rect x="623.45" y="296.2" width="41.25" height="20.5" rx="2.8" ry="2.8" fill="#808080"/><rect x="665.1" y="1.2" width="42.15" height="294" rx="3" ry="3" fill="#AA7700"/><rect x="665.3" y="296.2" width="41.25" height="20.5" rx="2.8" ry="2.8" fill="#808080"/><rect x="706.95" y="1.2" width="42.15" height="294" rx="3" ry="3" fill="#DDDDDD"/><rect x="707.15" y="296.2" width="41.25" height="20.5" rx="2.8" ry="2.8" fill="#808080"/><line x1="581.4" x2="749" y1="27.65" y2="27.65" stroke="#D00000" stroke-width="0.9"/><line x1="581.4" x2="749" y1="29.25" y2="29.25" stroke="#D00000" stroke-width="0.9"/><line x1="581.4" x2="749" y1="31.4" y2="31.4" stroke="#000" stroke-width="0.9"/><line x1="581.4" x2="749" y1="106.5" y2="106.5" stroke="#222" stroke-width="0.6"/><line x1="581.4" x2="749" y1="108.5" y2="108.5" stroke="#222" stroke-width="0.6"/><line x1="581.4" x2="749" y1="159.4" y2="159.4" stroke="#111" stroke-width="0.7"/><line x1="581.4" x2="749" y1="161.4" y2="161.4" stroke="#111" stroke-width="0.7"/><line x1="581.4" x2="749" y1="211.9" y2="211.9" stroke="#333" stroke-width="0.7"/><text transform="translate(597,285.7) scale(0.92,0.93)" fill="#111">0</text><text transform="translate(597,259.52) scale(0.92,0.93)" fill="#111">1</text><text transform="translate(597,233.34) scale(0.92,0.93)" fill="#111">2</text><text transform="translate(597,207.16) scale(0.92,0.93)" fill="#111">3</text><text transform="translate(597,180.98) scale(0.92,0.93)" fill="#111">4</text><text transform="translate(597,154.8) scale(0.92,0.93)" fill="#111">5</text><text transform="translate(597,128.62) scale(0.92,0.93)" fill="#111">6</text><text transform="translate(597,102.44) scale(0.92,0.93)" fill="#111">7</text><text transform="translate(597,76.26) scale(0.92,0.93)" fill="#111">8</text><text transform="translate(597,50.08) scale(0.92,0.93)" fill="#111">9</text><text transform="translate(597,22.8) scale(0.92,0.93)" fill="#111">10</text><text transform="translate(638.85,285.7) scale(0.92,0.93)" fill="#111">0</text><text transform="translate(638.85,259.52) scale(0.92,0.93)" fill="#111">1</text><text transform="translate(638.85,233.34) scale(0.92,0.93)" fill="#111">2</text><text transform="translate(638.85,207.16) scale(0.92,0.93)" fill="#111">3</text><text transform="translate(638.85,180.98) scale(0.92,0.93)" fill="#111">4</text><text transform="translate(638.85,154.8) scale(0.92,0.93)" fill="#111">5</text><text transform="translate(638.85,128.62) scale(0.92,0.93)" fill="#111">6</text><text transform="translate(638.85,102.44) scale(0.92,0.93)" fill="#111">7</text><text transform="translate(638.85,76.26) scale(0.92,0.93)" fill="#111">8</text><text transform="translate(638.85,50.08) scale(0.92,0.93)" fill="#111">9</text><text transform="translate(638.85,22.8) scale(0.92,0.93)" fill="#111">10</text><text transform="translate(680.7,285.7) scale(0.92,0.93)" fill="#111">0</text><text transform="translate(680.7,259.52) scale(0.92,0.93)" fill="#111">1</text><text transform="translate(680.7,233.34) scale(0.92,0.93)" fill="#111">2</text><text transform="translate(680.7,207.16) scale(0.92,0.93)" fill="#111">3</text><text transform="translate(680.7,180.98) scale(0.92,0.93)" fill="#111">4</text><text transform="translate(680.7,154.8) scale(0.92,0.93)" fill="#111">5</text><text transform="translate(680.7,128.62) scale(0.92,0.93)" fill="#111">6</text><text transform="translate(680.7,102.44) scale(0.92,0.93)" fill="#111">7</text><text transform="translate(680.7,76.26) scale(0.92,0.93)" fill="#111">8</text><text transform="translate(680.7,50.08) scale(0.92,0.93)" fill="#111">9</text><text transform="translate(680.7,22.8) scale(0.92,0.93)" fill="#111">10</text><text transform="translate(722.55,285.7) scale(0.92,0.93)" fill="#111">0</text><text transform="translate(722.55,259.52) scale(0.92,0.93)" fill="#111">1</text><text transform="translate(722.55,233.34) scale(0.92,0.93)" fill="#111">2</text><text transform="translate(722.55,207.16) scale(0.92,0.93)" fill="#111">3</text><text transform="translate(722.55,180.98) scale(0.92,0.93)" fill="#111">4</text><text transform="translate(722.55,154.8) scale(0.92,0.93)" fill="#111">5</text><text transform="translate(722.55,128.62) scale(0.92,0.93)" fill="#111">6</text><text transform="translate(722.55,102.44) scale(0.92,0.93)" fill="#111">7</text><text transform="translate(722.55,76.26) scale(0.92,0.93)" fill="#111">8</text><text transform="translate(722.55,50.08) scale(0.92,0.93)" fill="#111">9</text><text transform="translate(722.55,22.8) scale(0.92,0.93)" fill="#111">10</text><g transform="translate(595.72,145.65)" stroke-linejoin="round"><g fill="#4A0608" stroke="#4A0608" stroke-width="1.5"><path d="M-5.6,0 L-5.6,5.8 A5.6,2.9 0 0 0 5.6,5.8 L5.6,0 Z"/><path d="M-5.6,0 A5.6,2.9 0 1 1 5.6,0 A5.6,2.9 0 1 1 -5.6,0 Z"/></g><path d="M-5.6,0 L-5.6,5.8 A5.6,2.9 0 0 0 5.6,5.8 L5.6,0 Z" fill="url(#cg-red)"/><path d="M-5.6,0 A5.6,2.9 0 1 1 5.6,0 A5.6,2.9 0 1 1 -5.6,0 Z" fill="#F0502A"/></g><g transform="translate(599.02,172.1)" stroke-linejoin="round"><g fill="#2E1C08" stroke="#2E1C08" stroke-width="1.5"><path d="M-5.6,0 L-5.6,5.8 A5.6,2.9 0 0 0 5.6,5.8 L5.6,0 Z"/><path d="M-5.6,0 A5.6,2.9 0 1 1 5.6,0 A5.6,2.9 0 1 1 -5.6,0 Z"/></g><path d="M-5.6,0 L-5.6,5.8 A5.6,2.9 0 0 0 5.6,5.8 L5.6,0 Z" fill="url(#cg-cbrown)"/><path d="M-5.6,0 A5.6,2.9 0 1 1 5.6,0 A5.6,2.9 0 1 1 -5.6,0 Z" fill="#A06C3A"/></g><g transform="translate(602.42,198.55)" stroke-linejoin="round"><g fill="#2C2A00" stroke="#2C2A00" stroke-width="1.5"><path d="M-5.6,0 L-5.6,5.8 A5.6,2.9 0 0 0 5.6,5.8 L5.6,0 Z"/><path d="M-5.6,0 A5.6,2.9 0 1 1 5.6,0 A5.6,2.9 0 1 1 -5.6,0 Z"/></g><path d="M-5.6,0 L-5.6,5.8 A5.6,2.9 0 0 0 5.6,5.8 L5.6,0 Z" fill="url(#cg-cyellow)"/><path d="M-5.6,0 A5.6,2.9 0 1 1 5.6,0 A5.6,2.9 0 1 1 -5.6,0 Z" fill="#E2D312"/></g><g transform="translate(605.72,277.9)" stroke-linejoin="round"><g fill="#0C4412" stroke="#0C4412" stroke-width="1.5"><path d="M-5.6,0 L-5.6,5.8 A5.6,2.9 0 0 0 5.6,5.8 L5.6,0 Z"/><path d="M-5.6,0 A5.6,2.9 0 1 1 5.6,0 A5.6,2.9 0 1 1 -5.6,0 Z"/></g><path d="M-5.6,0 L-5.6,5.8 A5.6,2.9 0 0 0 5.6,5.8 L5.6,0 Z" fill="url(#cg-green)"/><path d="M-5.6,0 A5.6,2.9 0 1 1 5.6,0 A5.6,2.9 0 1 1 -5.6,0 Z" fill="#40D850"/></g><g transform="translate(637.57,119.2)" stroke-linejoin="round"><g fill="#4A0608" stroke="#4A0608" stroke-width="1.5"><path d="M-5.6,0 L-5.6,5.8 A5.6,2.9 0 0 0 5.6,5.8 L5.6,0 Z"/><path d="M-5.6,0 A5.6,2.9 0 1 1 5.6,0 A5.6,2.9 0 1 1 -5.6,0 Z"/></g><path d="M-5.6,0 L-5.6,5.8 A5.6,2.9 0 0 0 5.6,5.8 L5.6,0 Z" fill="url(#cg-red)"/><path d="M-5.6,0 A5.6,2.9 0 1 1 5.6,0 A5.6,2.9 0 1 1 -5.6,0 Z" fill="#F0502A"/></g><g transform="translate(647.57,172.1)" stroke-linejoin="round"><g fill="#0C4412" stroke="#0C4412" stroke-width="1.5"><path d="M-5.6,0 L-5.6,5.8 A5.6,2.9 0 0 0 5.6,5.8 L5.6,0 Z"/><path d="M-5.6,0 A5.6,2.9 0 1 1 5.6,0 A5.6,2.9 0 1 1 -5.6,0 Z"/></g><path d="M-5.6,0 L-5.6,5.8 A5.6,2.9 0 0 0 5.6,5.8 L5.6,0 Z" fill="url(#cg-green)"/><path d="M-5.6,0 A5.6,2.9 0 1 1 5.6,0 A5.6,2.9 0 1 1 -5.6,0 Z" fill="#40D850"/></g><g transform="translate(640.88,251.45)" stroke-linejoin="round"><g fill="#2E1C08" stroke="#2E1C08" stroke-width="1.5"><path d="M-5.6,0 L-5.6,5.8 A5.6,2.9 0 0 0 5.6,5.8 L5.6,0 Z"/><path d="M-5.6,0 A5.6,2.9 0 1 1 5.6,0 A5.6,2.9 0 1 1 -5.6,0 Z"/></g><path d="M-5.6,0 L-5.6,5.8 A5.6,2.9 0 0 0 5.6,5.8 L5.6,0 Z" fill="url(#cg-cbrown)"/><path d="M-5.6,0 A5.6,2.9 0 1 1 5.6,0 A5.6,2.9 0 1 1 -5.6,0 Z" fill="#A06C3A"/></g><g transform="translate(644.27,277.9)" stroke-linejoin="round"><g fill="#2C2A00" stroke="#2C2A00" stroke-width="1.5"><path d="M-5.6,0 L-5.6,5.8 A5.6,2.9 0 0 0 5.6,5.8 L5.6,0 Z"/><path d="M-5.6,0 A5.6,2.9 0 1 1 5.6,0 A5.6,2.9 0 1 1 -5.6,0 Z"/></g><path d="M-5.6,0 L-5.6,5.8 A5.6,2.9 0 0 0 5.6,5.8 L5.6,0 Z" fill="url(#cg-cyellow)"/><path d="M-5.6,0 A5.6,2.9 0 1 1 5.6,0 A5.6,2.9 0 1 1 -5.6,0 Z" fill="#E2D312"/></g><g transform="translate(679.42,92.75)" stroke-linejoin="round"><g fill="#4A0608" stroke="#4A0608" stroke-width="1.5"><path d="M-5.6,0 L-5.6,5.8 A5.6,2.9 0 0 0 5.6,5.8 L5.6,0 Z"/><path d="M-5.6,0 A5.6,2.9 0 1 1 5.6,0 A5.6,2.9 0 1 1 -5.6,0 Z"/></g><path d="M-5.6,0 L-5.6,5.8 A5.6,2.9 0 0 0 5.6,5.8 L5.6,0 Z" fill="url(#cg-red)"/><path d="M-5.6,0 A5.6,2.9 0 1 1 5.6,0 A5.6,2.9 0 1 1 -5.6,0 Z" fill="#F0502A"/></g><g transform="translate(686.12,145.65)" stroke-linejoin="round"><g fill="#2C2A00" stroke="#2C2A00" stroke-width="1.5"><path d="M-5.6,0 L-5.6,5.8 A5.6,2.9 0 0 0 5.6,5.8 L5.6,0 Z"/><path d="M-5.6,0 A5.6,2.9 0 1 1 5.6,0 A5.6,2.9 0 1 1 -5.6,0 Z"/></g><path d="M-5.6,0 L-5.6,5.8 A5.6,2.9 0 0 0 5.6,5.8 L5.6,0 Z" fill="url(#cg-cyellow)"/><path d="M-5.6,0 A5.6,2.9 0 1 1 5.6,0 A5.6,2.9 0 1 1 -5.6,0 Z" fill="#E2D312"/></g><g transform="translate(682.73,198.55)" stroke-linejoin="round"><g fill="#2E1C08" stroke="#2E1C08" stroke-width="1.5"><path d="M-5.6,0 L-5.6,5.8 A5.6,2.9 0 0 0 5.6,5.8 L5.6,0 Z"/><path d="M-5.6,0 A5.6,2.9 0 1 1 5.6,0 A5.6,2.9 0 1 1 -5.6,0 Z"/></g><path d="M-5.6,0 L-5.6,5.8 A5.6,2.9 0 0 0 5.6,5.8 L5.6,0 Z" fill="url(#cg-cbrown)"/><path d="M-5.6,0 A5.6,2.9 0 1 1 5.6,0 A5.6,2.9 0 1 1 -5.6,0 Z" fill="#A06C3A"/></g><g transform="translate(689.42,225)" stroke-linejoin="round"><g fill="#0C4412" stroke="#0C4412" stroke-width="1.5"><path d="M-5.6,0 L-5.6,5.8 A5.6,2.9 0 0 0 5.6,5.8 L5.6,0 Z"/><path d="M-5.6,0 A5.6,2.9 0 1 1 5.6,0 A5.6,2.9 0 1 1 -5.6,0 Z"/></g><path d="M-5.6,0 L-5.6,5.8 A5.6,2.9 0 0 0 5.6,5.8 L5.6,0 Z" fill="url(#cg-green)"/><path d="M-5.6,0 A5.6,2.9 0 1 1 5.6,0 A5.6,2.9 0 1 1 -5.6,0 Z" fill="#40D850"/></g><g transform="translate(721.27,66.3)" stroke-linejoin="round"><g fill="#4A0608" stroke="#4A0608" stroke-width="1.5"><path d="M-5.6,0 L-5.6,5.8 A5.6,2.9 0 0 0 5.6,5.8 L5.6,0 Z"/><path d="M-5.6,0 A5.6,2.9 0 1 1 5.6,0 A5.6,2.9 0 1 1 -5.6,0 Z"/></g><path d="M-5.6,0 L-5.6,5.8 A5.6,2.9 0 0 0 5.6,5.8 L5.6,0 Z" fill="url(#cg-red)"/><path d="M-5.6,0 A5.6,2.9 0 1 1 5.6,0 A5.6,2.9 0 1 1 -5.6,0 Z" fill="#F0502A"/></g><g transform="translate(724.58,145.65)" stroke-linejoin="round"><g fill="#2E1C08" stroke="#2E1C08" stroke-width="1.5"><path d="M-5.6,0 L-5.6,5.8 A5.6,2.9 0 0 0 5.6,5.8 L5.6,0 Z"/><path d="M-5.6,0 A5.6,2.9 0 1 1 5.6,0 A5.6,2.9 0 1 1 -5.6,0 Z"/></g><path d="M-5.6,0 L-5.6,5.8 A5.6,2.9 0 0 0 5.6,5.8 L5.6,0 Z" fill="url(#cg-cbrown)"/><path d="M-5.6,0 A5.6,2.9 0 1 1 5.6,0 A5.6,2.9 0 1 1 -5.6,0 Z" fill="#A06C3A"/></g><g transform="translate(731.27,251.45)" stroke-linejoin="round"><g fill="#0C4412" stroke="#0C4412" stroke-width="1.5"><path d="M-5.6,0 L-5.6,5.8 A5.6,2.9 0 0 0 5.6,5.8 L5.6,0 Z"/><path d="M-5.6,0 A5.6,2.9 0 1 1 5.6,0 A5.6,2.9 0 1 1 -5.6,0 Z"/></g><path d="M-5.6,0 L-5.6,5.8 A5.6,2.9 0 0 0 5.6,5.8 L5.6,0 Z" fill="url(#cg-green)"/><path d="M-5.6,0 A5.6,2.9 0 1 1 5.6,0 A5.6,2.9 0 1 1 -5.6,0 Z" fill="#40D850"/></g><g transform="translate(727.98,277.9)" stroke-linejoin="round"><g fill="#2C2A00" stroke="#2C2A00" stroke-width="1.5"><path d="M-5.6,0 L-5.6,5.8 A5.6,2.9 0 0 0 5.6,5.8 L5.6,0 Z"/><path d="M-5.6,0 A5.6,2.9 0 1 1 5.6,0 A5.6,2.9 0 1 1 -5.6,0 Z"/></g><path d="M-5.6,0 L-5.6,5.8 A5.6,2.9 0 0 0 5.6,5.8 L5.6,0 Z" fill="url(#cg-cyellow)"/><path d="M-5.6,0 A5.6,2.9 0 1 1 5.6,0 A5.6,2.9 0 1 1 -5.6,0 Z" fill="#E2D312"/></g><g transform="translate(591.3,304.2)" stroke-linejoin="round"><g fill="#4A0608" stroke="#4A0608" stroke-width="1.5"><path d="M-5.6,0 L-5.6,5.8 A5.6,2.9 0 0 0 5.6,5.8 L5.6,0 Z"/><path d="M-5.6,0 A5.6,2.9 0 1 1 5.6,0 A5.6,2.9 0 1 1 -5.6,0 Z"/></g><path d="M-5.6,0 L-5.6,5.8 A5.6,2.9 0 0 0 5.6,5.8 L5.6,0 Z" fill="url(#cg-red)"/><path d="M-5.6,0 A5.6,2.9 0 1 1 5.6,0 A5.6,2.9 0 1 1 -5.6,0 Z" fill="#F0502A"/></g><text transform="translate(599.5,312.7) scale(0.92,0.93)" text-anchor="middle" fill="#000">2</text><text transform="translate(607.7,312.7) scale(0.92,0.93)" text-anchor="middle" fill="#000">2</text><text transform="translate(615.9,312.7) scale(0.92,0.93)" text-anchor="middle" fill="#000">2</text><g transform="translate(633.15,304.2)" stroke-linejoin="round"><g fill="#0C4412" stroke="#0C4412" stroke-width="1.5"><path d="M-5.6,0 L-5.6,5.8 A5.6,2.9 0 0 0 5.6,5.8 L5.6,0 Z"/><path d="M-5.6,0 A5.6,2.9 0 1 1 5.6,0 A5.6,2.9 0 1 1 -5.6,0 Z"/></g><path d="M-5.6,0 L-5.6,5.8 A5.6,2.9 0 0 0 5.6,5.8 L5.6,0 Z" fill="url(#cg-green)"/><path d="M-5.6,0 A5.6,2.9 0 1 1 5.6,0 A5.6,2.9 0 1 1 -5.6,0 Z" fill="#40D850"/></g><g transform="translate(641.85,304.2)" stroke-linejoin="round"><g fill="#4A0608" stroke="#4A0608" stroke-width="1.5"><path d="M-5.6,0 L-5.6,5.8 A5.6,2.9 0 0 0 5.6,5.8 L5.6,0 Z"/><path d="M-5.6,0 A5.6,2.9 0 1 1 5.6,0 A5.6,2.9 0 1 1 -5.6,0 Z"/></g><path d="M-5.6,0 L-5.6,5.8 A5.6,2.9 0 0 0 5.6,5.8 L5.6,0 Z" fill="url(#cg-red)"/><path d="M-5.6,0 A5.6,2.9 0 1 1 5.6,0 A5.6,2.9 0 1 1 -5.6,0 Z" fill="#F0502A"/></g><g transform="translate(651.15,304.2)" stroke-linejoin="round"><g fill="#4A0608" stroke="#4A0608" stroke-width="1.5"><path d="M-5.6,0 L-5.6,5.8 A5.6,2.9 0 0 0 5.6,5.8 L5.6,0 Z"/><path d="M-5.6,0 A5.6,2.9 0 1 1 5.6,0 A5.6,2.9 0 1 1 -5.6,0 Z"/></g><path d="M-5.6,0 L-5.6,5.8 A5.6,2.9 0 0 0 5.6,5.8 L5.6,0 Z" fill="url(#cg-red)"/><path d="M-5.6,0 A5.6,2.9 0 1 1 5.6,0 A5.6,2.9 0 1 1 -5.6,0 Z" fill="#F0502A"/></g><text transform="translate(657.85,312.7) scale(0.92,0.93)" text-anchor="middle" fill="#000">2</text><g transform="translate(675,304.2)" stroke-linejoin="round"><g fill="#4A0608" stroke="#4A0608" stroke-width="1.5"><path d="M-5.6,0 L-5.6,5.8 A5.6,2.9 0 0 0 5.6,5.8 L5.6,0 Z"/><path d="M-5.6,0 A5.6,2.9 0 1 1 5.6,0 A5.6,2.9 0 1 1 -5.6,0 Z"/></g><path d="M-5.6,0 L-5.6,5.8 A5.6,2.9 0 0 0 5.6,5.8 L5.6,0 Z" fill="url(#cg-red)"/><path d="M-5.6,0 A5.6,2.9 0 1 1 5.6,0 A5.6,2.9 0 1 1 -5.6,0 Z" fill="#F0502A"/></g><text transform="translate(683.2,312.7) scale(0.92,0.93)" text-anchor="middle" fill="#000">2</text><text transform="translate(691.4,312.7) scale(0.92,0.93)" text-anchor="middle" fill="#000">2</text><text transform="translate(699.6,312.7) scale(0.92,0.93)" text-anchor="middle" fill="#000">2</text><g transform="translate(716.85,304.2)" stroke-linejoin="round"><g fill="#4A0608" stroke="#4A0608" stroke-width="1.5"><path d="M-5.6,0 L-5.6,5.8 A5.6,2.9 0 0 0 5.6,5.8 L5.6,0 Z"/><path d="M-5.6,0 A5.6,2.9 0 1 1 5.6,0 A5.6,2.9 0 1 1 -5.6,0 Z"/></g><path d="M-5.6,0 L-5.6,5.8 A5.6,2.9 0 0 0 5.6,5.8 L5.6,0 Z" fill="url(#cg-red)"/><path d="M-5.6,0 A5.6,2.9 0 1 1 5.6,0 A5.6,2.9 0 1 1 -5.6,0 Z" fill="#F0502A"/></g><g transform="translate(725.55,304.2)" stroke-linejoin="round"><g fill="#2E1C08" stroke="#2E1C08" stroke-width="1.5"><path d="M-5.6,0 L-5.6,5.8 A5.6,2.9 0 0 0 5.6,5.8 L5.6,0 Z"/><path d="M-5.6,0 A5.6,2.9 0 1 1 5.6,0 A5.6,2.9 0 1 1 -5.6,0 Z"/></g><path d="M-5.6,0 L-5.6,5.8 A5.6,2.9 0 0 0 5.6,5.8 L5.6,0 Z" fill="url(#cg-cbrown)"/><path d="M-5.6,0 A5.6,2.9 0 1 1 5.6,0 A5.6,2.9 0 1 1 -5.6,0 Z" fill="#A06C3A"/></g><g transform="translate(734.85,304.2)" stroke-linejoin="round"><g fill="#4A0608" stroke="#4A0608" stroke-width="1.5"><path d="M-5.6,0 L-5.6,5.8 A5.6,2.9 0 0 0 5.6,5.8 L5.6,0 Z"/><path d="M-5.6,0 A5.6,2.9 0 1 1 5.6,0 A5.6,2.9 0 1 1 -5.6,0 Z"/></g><path d="M-5.6,0 L-5.6,5.8 A5.6,2.9 0 0 0 5.6,5.8 L5.6,0 Z" fill="url(#cg-red)"/><path d="M-5.6,0 A5.6,2.9 0 1 1 5.6,0 A5.6,2.9 0 1 1 -5.6,0 Z" fill="#F0502A"/></g><text transform="translate(741.55,312.7) scale(0.92,0.93)" text-anchor="middle" fill="#000">2</text></svg><div class="t" id="t1" style="left:-1.5px;top:330.3px;transform:scale(0.9678,0.86);color:#222">round 1</div>
<div class="rbox" style="left:-2.1px"></div>
<div class="t" id="t2" style="left:1.2px;top:343.2px;transform:scale(0.9559,0.86);color:#c4c4c4">SH/SA:5vp</div>
<div class="cb" style="left:1.1px;top:356px;width:10.4px;height:10.8px;background:#FF6644;"></div>
<div class="t" id="t3" style="left:1.3px;top:357px;transform:scale(0.9275,0.86);color:#222">oo</div>
<div class="t" id="t4" style="left:1.2px;top:368.2px;transform:scale(0.8602,0.86);color:#c4c4c4">1W</div>
<div class="t" id="t5" style="left:51.8px;top:330.3px;transform:scale(0.9678,0.86);color:#222">round 2</div>
<div class="rbox" style="left:51.2px"></div>
<div class="t" id="t6" style="left:54.5px;top:343.2px;transform:scale(0.9571,0.86);color:#c4c4c4">D:2VP</div>
<div class="cb" style="left:54.4px;top:356px;width:20.5px;height:10.8px;background:#9999FF;"></div>
<div class="t" id="t7" style="left:54.6px;top:357px;transform:scale(0.9322,0.86);color:#222">oooo</div>
<div class="t" id="t8" style="left:54.5px;top:368.2px;transform:scale(0.8011,0.86);color:#c4c4c4">1P</div>
<div class="t" id="t9" style="left:105.1px;top:330.3px;transform:scale(0.9678,0.86);color:#222">round 3</div>
<div class="rbox" style="left:104.5px"></div>
<div class="t" id="t10" style="left:107.8px;top:343.2px;transform:scale(1.0490,0.86);color:#c4c4c4">dig: 2vp</div>
<div class="cb" style="left:107.7px;top:356px;width:5.2px;height:10.8px;background:#AA7700;"></div>
<div class="t" id="t11" style="left:107.9px;top:357px;transform:scale(0.8904,0.86);color:#222">o</div>
<div class="t" id="t12" style="left:107.8px;top:368.2px;transform:scale(0.8232,0.86);color:#c4c4c4">1C</div>
<div class="t" id="t13" style="left:158.4px;top:330.3px;transform:scale(0.9678,0.86);color:#222">round 4</div>
<div class="rbox" style="left:157.8px"></div>
<div class="t" id="t14" style="left:161.1px;top:343.2px;transform:scale(0.9883,0.86);color:#c4c4c4">TP: 3vp</div>
<div class="cb" style="left:161px;top:356px;width:20.5px;height:10.8px;background:#9999FF;"></div>
<div class="t" id="t15" style="left:161.2px;top:357px;transform:scale(0.9322,0.86);color:#222">oooo</div>
<div class="t" id="t16" style="left:161.1px;top:368.2px;transform:scale(0.9275,0.86);color:#c4c4c4">dig</div>
<div class="t" id="t17" style="left:211.7px;top:330.3px;transform:scale(0.9678,0.86);color:#222">round 5</div>
<div class="rbox" style="left:211.1px"></div>
<div class="t" id="t18" style="left:214.4px;top:343.2px;transform:scale(1.0357,0.86);color:#c4c4c4">D: 2vp</div>
<div class="cb" style="left:214.3px;top:356px;width:20.5px;height:10.8px;background:#FF6644;"></div>
<div class="t" id="t19" style="left:214.5px;top:357px;transform:scale(0.9322,0.86);color:#222">oooo</div>
<div class="t" id="t20" style="left:214.4px;top:368.2px;transform:scale(0.8810,0.86);color:#c4c4c4">4PW</div>
<div class="t" id="t21" style="left:265px;top:330.3px;transform:scale(0.9678,0.86);color:#222">round 6</div>
<div class="rbox" style="left:264.4px"></div>
<div class="t" id="t22" style="left:267.7px;top:343.2px;transform:scale(0.9559,0.86);color:#c4c4c4">SH/SA:5vp</div>
<div class="t" id="t23" style="left:318.3px;top:331px;transform:scale(0.9426,0.86);color:#222">Final Scoring</div>
<div class="a" style="left:318.1px;top:338.5px;width:57.7px;height:50px;background:#fff;border:1.2px solid #111"></div>
<div class="t" id="t24" style="left:320.5px;top:339px;transform:scale(0.9045,0.86);"><b>cults:</b></div>
<div class="t" id="t25" style="left:320.5px;top:346.6px;transform:scale(1.0535,0.86);">8/4/2</div>
<div class="t" id="t26" style="left:320.5px;top:355px;transform:scale(0.9701,0.86);"><b>network:</b></div>
<div class="t" id="t27" style="left:320.5px;top:362.4px;transform:scale(1.0301,0.86);">18/12/6</div>
<div class="bon" style="left:-3px"></div>
<div class="t" id="t28" style="left:-0.6px;top:396.5px;transform:scale(0.9984,0.86);color:#111">act:dig</div>
<div class="t" id="t29" style="left:-0.6px;top:418.4px;transform:scale(0.9628,0.86);color:#111">+2c</div>
<div class="bon" style="left:34.2px"></div>
<div class="t" id="t30" style="left:36.6px;top:396.5px;transform:scale(1.0227,0.86);color:#111">act:cult</div>
<div class="t" id="t31" style="left:36.6px;top:418.4px;transform:scale(0.9628,0.86);color:#111">+4c</div>
<div class="t" id="t32" style="left:72.4px;top:383.1px;transform:scale(0.9628,0.86);color:#111">+2c</div>
<div class="bon" style="left:71.4px"></div>
<div class="t" id="t33" style="left:73.8px;top:396.5px;transform:scale(1.0027,0.86);color:#111">+ship</div>
<div class="t" id="t34" style="left:73.8px;top:418.4px;transform:scale(1.0027,0.86);color:#111">+3pw</div>
<div class="bon" style="left:108.6px"></div>
<div class="t" id="t35" style="left:111px;top:407.45px;transform:scale(0.9697,0.86);color:#111">+1w</div>
<div class="t" id="t36" style="left:111px;top:418.4px;transform:scale(1.0027,0.86);color:#111">+3pw</div>
<div class="t" id="t37" style="left:146.8px;top:383.1px;transform:scale(0.9628,0.86);color:#111">+1c</div>
<div class="bon" style="left:145.8px"></div>
<div class="t" id="t38" style="left:148.2px;top:396.5px;transform:scale(0.9501,0.86);color:#111">pass:</div>
<div class="t" id="t39" style="left:148.2px;top:407.45px;transform:scale(0.9719,0.86);color:#111">D 1vp</div>
<div class="t" id="t40" style="left:148.2px;top:418.4px;transform:scale(0.9628,0.86);color:#111">+2c</div>
<div class="t" id="t41" style="left:184px;top:383.1px;transform:scale(0.9628,0.86);color:#111">+1c</div>
<div class="bon" style="left:183px"></div>
<div class="t" id="t42" style="left:185.4px;top:396.5px;transform:scale(0.9501,0.86);color:#111">pass:</div>
<div class="t" id="t43" style="left:185.4px;top:407.45px;transform:scale(0.9765,0.86);color:#111">TP 2vp</div>
<div class="t" id="t44" style="left:185.4px;top:418.4px;transform:scale(0.9697,0.86);color:#111">+1w</div>
<div class="bon" style="left:220.2px"></div>
<div class="t" id="t45" style="left:222.6px;top:396.5px;transform:scale(0.9501,0.86);color:#111">pass:</div>
<div class="t" id="t46" style="left:222.6px;top:407.45px;transform:scale(0.9927,0.86);color:#111">S 4vp</div>
<div class="t" id="t47" style="left:222.6px;top:418.4px;transform:scale(0.9697,0.86);color:#111">+2w</div>
<div class="t" id="t48" style="left:-2.5px;top:439.1px;transform:scale(0.9380,0.86);color:#111">2x</div>
<div class="town" style="left:-3.1px;top:446.7px"></div>
<div class="t" id="t49" style="left:1px;top:452.3px;transform:scale(0.9984,0.86);color:#111">6vp</div>
<div class="t" id="t50" style="left:1px;top:466.3px;transform:scale(1.0123,0.86);color:#111">8pw</div>
<div class="t" id="t51" style="left:34px;top:439.1px;transform:scale(0.9380,0.86);color:#111">2x</div>
<div class="town" style="left:33.4px;top:446.7px"></div>
<div class="t" id="t52" style="left:37.5px;top:452.3px;transform:scale(0.9984,0.86);color:#111">7vp</div>
<div class="t" id="t53" style="left:37.5px;top:466.3px;transform:scale(0.9120,0.86);color:#111">2w</div>
<div class="fav" style="left:-1.7px;top:489.4px"></div>
<div class="cb" style="left:1.3px;top:493.3px;width:15.45px;height:10.7px;background:#9999FF;"></div>
<div class="t" id="t54" style="left:1.5px;top:494px;transform:scale(0.9306,0.86);color:#111">ooo</div>
<div class="fav" style="left:51.5px;top:489.4px"></div>
<div class="cb" style="left:54.5px;top:493.3px;width:15.45px;height:10.7px;background:#DDDDDD;"></div>
<div class="t" id="t55" style="left:54.7px;top:494px;transform:scale(0.9306,0.86);color:#111">ooo</div>
<div class="t" id="t56" style="left:104.9px;top:482.2px;transform:scale(0.9380,0.86);color:#111">2x</div>
<div class="fav" style="left:104.7px;top:489.4px"></div>
<div class="cb" style="left:107.7px;top:493.3px;width:10.3px;height:10.7px;background:#FF6644;"></div>
<div class="t" id="t57" style="left:107.9px;top:494px;transform:scale(0.9183,0.86);color:#111">oo</div>
<div class="t" id="t58" style="left:107.9px;top:507.9px;transform:scale(1.0895,0.86);color:#111">tw:</div>
<div class="t" id="t59" style="left:107.9px;top:518.2px;transform:scale(0.9481,0.86);color:#111">size 6</div>
<div class="t" id="t60" style="left:158.1px;top:482.2px;transform:scale(0.9380,0.86);color:#111">3x</div>
<div class="fav" style="left:157.9px;top:489.4px"></div>
<div class="cb" style="left:160.9px;top:493.3px;width:10.3px;height:10.7px;background:#9999FF;"></div>
<div class="t" id="t61" style="left:161.1px;top:494px;transform:scale(0.9183,0.86);color:#111">oo</div>
<div class="t" id="t62" style="left:161.1px;top:507.9px;transform:scale(1.0240,0.86);color:#111">act:</div>
<div class="t" id="t63" style="left:161.1px;top:518.2px;transform:scale(0.9948,0.86);color:#111">cult</div>
<div class="t" id="t64" style="left:211.3px;top:482.2px;transform:scale(0.9380,0.86);color:#111">3x</div>
<div class="fav" style="left:211.1px;top:489.4px"></div>
<div class="cb" style="left:214.1px;top:493.3px;width:10.3px;height:10.7px;background:#AA7700;"></div>
<div class="t" id="t65" style="left:214.3px;top:494px;transform:scale(0.9183,0.86);color:#111">oo</div>
<div class="t" id="t66" style="left:214.3px;top:507.9px;transform:scale(0.9173,0.86);color:#111">+1pw</div>
<div class="t" id="t67" style="left:214.3px;top:518.2px;transform:scale(0.9143,0.86);color:#111">+1w</div>
<div class="t" id="t68" style="left:264.5px;top:482.2px;transform:scale(0.9380,0.86);color:#111">3x</div>
<div class="fav" style="left:264.3px;top:489.4px"></div>
<div class="cb" style="left:267.3px;top:493.3px;width:10.3px;height:10.7px;background:#DDDDDD;"></div>
<div class="t" id="t69" style="left:267.5px;top:494px;transform:scale(0.9183,0.86);color:#111">oo</div>
<div class="t" id="t70" style="left:267.5px;top:507.9px;transform:scale(0.9173,0.86);color:#111">+4pw</div>
<div class="t" id="t71" style="left:-1.5px;top:534.7px;transform:scale(0.9380,0.86);color:#111">3x</div>
<div class="fav" style="left:-1.7px;top:541.9px"></div>
<div class="cb" style="left:1.3px;top:545.8px;width:5.15px;height:10.7px;background:#FF6644;"></div>
<div class="t" id="t72" style="left:1.5px;top:546.5px;transform:scale(0.8812,0.86);color:#111">o</div>
<div class="t" id="t73" style="left:1.5px;top:560.4px;transform:scale(0.9125,0.86);color:#111">+3c</div>
<div class="t" id="t74" style="left:51.7px;top:534.7px;transform:scale(0.9380,0.86);color:#111">2x</div>
<div class="fav" style="left:51.5px;top:541.9px"></div>
<div class="cb" style="left:54.5px;top:545.8px;width:5.15px;height:10.7px;background:#9999FF;"></div>
<div class="t" id="t75" style="left:54.7px;top:546.5px;transform:scale(0.8812,0.86);color:#111">o</div>
<div class="t" id="t76" style="left:54.7px;top:560.4px;transform:scale(1.1171,0.86);color:#111">tp: 3vp</div>
<div class="fav" style="left:104.7px;top:541.9px"></div>
<div class="cb" style="left:107.7px;top:545.8px;width:5.15px;height:10.7px;background:#DDDDDD;"></div>
<div class="t" id="t77" style="left:107.9px;top:546.5px;transform:scale(0.8812,0.86);color:#111">o</div>
<div class="t" id="t78" style="left:107.9px;top:560.4px;transform:scale(1.0085,0.86);color:#111">tp pass</div>
<div class="t" id="t79" style="left:107.9px;top:570.7px;transform:scale(1.0710,0.86);color:#111">[2,3,3,4]</div>
<div class="t" id="t80" style="left:389.4px;top:324.6px;transform:scale(0.9653,0.86);"><b>player Human action</b></div>
<div class="a" style="left:385.4px;top:368.8px;width:370px;height:107px;background:#fff;border:1.1px solid #444"></div>
<div class="t" id="t81" style="left:389.3px;top:375.3px;transform:scale(0.9986,0.86);"><b>Game over</b> (detailed log is at the bottom of the web page)</div>
<div class="t" id="t82" style="left:389.3px;top:389.3px;transform:scale(0.9971,0.86);">Final scores (hover for more details):</div>
<div class="cb" style="left:389.3px;top:398.2px;width:66.5px;height:10.9px;background:#EE1C24;"></div>
<div class="t" id="t83" style="left:390px;top:398.9px;transform:scale(0.9844,0.86);color:#fff">Human (giants)</div>
<div class="t" id="t84" style="left:455.8px;top:398.9px;transform:scale(0.9618,0.86);">:</div>
<div class="t" id="t85" style="left:462.9px;top:398.9px;transform:scale(0.9661,0.86);"><b>140</b></div>
<div class="t" id="t86" style="left:525.8px;top:398.9px;transform:scale(1.0651,0.86);color:#222">cult:[8,8,8,8] netw:18 fin:0 res:0</div>
<div class="t" id="t87" style="left:525.8px;top:410.25px;transform:scale(0.9946,0.86);color:#222">game:90</div>
<div class="cb" style="left:389.3px;top:409.53px;width:75.4px;height:10.9px;background:#F4E800;"></div>
<div class="t" id="t88" style="left:390px;top:410.23px;transform:scale(0.9556,0.86);color:#000">Galatea (nomads)</div>
<div class="t" id="t89" style="left:464.7px;top:410.23px;transform:scale(0.9618,0.86);">:</div>
<div class="t" id="t90" style="left:472.3px;top:410.23px;transform:scale(1.0008,0.86);"><b>94</b></div>
<div class="t" id="t91" style="left:525.8px;top:410.23px;transform:scale(1.0669,0.86);color:#222">cult:[2,0,4,0] netw:6 fin:0 res:1</div>
<div class="t" id="t92" style="left:525.8px;top:421.58px;transform:scale(0.9946,0.86);color:#222">game:81</div>
<div class="cb" style="left:389.3px;top:420.86px;width:66.5px;height:10.9px;background:#A0642C;"></div>
<div class="t" id="t93" style="left:390px;top:421.56px;transform:scale(0.9686,0.86);color:#fff">Talos (halflings)</div>
<div class="t" id="t94" style="left:455.8px;top:421.56px;transform:scale(0.9618,0.86);">:</div>
<div class="t" id="t95" style="left:462.9px;top:421.56px;transform:scale(1.0008,0.86);"><b>86</b></div>
<div class="t" id="t96" style="left:525.8px;top:421.56px;transform:scale(1.0669,0.86);color:#222">cult:[4,2,2,4] netw:0 fin:0 res:3</div>
<div class="t" id="t97" style="left:525.8px;top:432.91px;transform:scale(0.9946,0.86);color:#222">game:71</div>
<div class="cb" style="left:389.3px;top:432.19px;width:61.7px;height:10.9px;background:#22CC33;"></div>
<div class="t" id="t98" style="left:390px;top:432.89px;transform:scale(0.9669,0.86);color:#000">Golem (auren)</div>
<div class="t" id="t99" style="left:451px;top:432.89px;transform:scale(0.9618,0.86);">:</div>
<div class="t" id="t100" style="left:458.3px;top:432.89px;transform:scale(0.9657,0.86);"><b>78</b></div>
<div class="t" id="t101" style="left:525.8px;top:432.89px;transform:scale(1.0651,0.86);color:#222">cult:[0,4,0,2] netw:12 fin:0 res:6</div>
<div class="t" id="t102" style="left:525.8px;top:444.24px;transform:scale(0.9946,0.86);color:#222">game:54</div>
<div class="cb" style="left:385.9px;top:482px;width:365px;height:63.2px;background:#FEE1E2;"></div>
<div class="t" id="t103" style="left:389.3px;top:487px;transform:scale(0.9400,0.86);">Players:</div>
<div class="cb" style="left:430.7px;top:486.6px;width:44.9px;height:9.9px;background:#F8BABE;"></div>
<div class="t" id="t104" style="left:431.5px;top:487px;transform:scale(0.9683,0.86);color:#FFF4F4">giants 140</div>
<div class="cb" style="left:478.8px;top:486.6px;width:48.9px;height:9.9px;background:#E0D0C0;"></div>
<div class="t" id="t105" style="left:479.6px;top:487px;transform:scale(0.9650,0.86);color:#FAF6F0">halflings 86</div>
<div class="cb" style="left:530.9px;top:486.6px;width:46.1px;height:9.9px;background:#FBF8B0;"></div>
<div class="t" id="t106" style="left:531.7px;top:487px;transform:scale(0.9283,0.86);color:#909060">nomads 94</div>
<div class="cb" style="left:578.8px;top:486.6px;width:61px;height:9.9px;background:#C0F0C8;"></div>
<div class="t" id="t107" style="left:579.6px;top:487px;transform:scale(1.0502,0.86);color:#70907A">auren 78* [S]</div>
<div class="t" id="t108" style="left:389.3px;top:498.4px;transform:scale(1.0025,0.86);">Resources: <b>1 c, 0 w, 0<i>/</i>1 p, </b><span class="pw">7<i>/</i>0<i>/</i>0 pw</span></div>
<div class="t" id="t109" style="left:389.3px;top:509.2px;transform:scale(1.0026,0.86);">Buildings: <span class="rd">8<i>/</i>8 D</span><b>, 2<i>/</i>4 TP, 1<i>/</i>3 TE, 1<i>/</i>1 SH, 1<i>/</i>1 SA</b></div>
<div class="t" id="t110" style="left:389.3px;top:521px;transform:scale(0.9654,0.86);">Advances: <b>dig: 0, ship: 1</b></div>
<div class="sec" style="top:600.8px"></div>
<div class="cb" style="left:1px;top:605.9px;width:66.5px;height:10.3px;background:#F8BCC0;"></div>
<div class="t" id="t111" style="left:1.7px;top:606.1px;transform:scale(0.9814,0.86);color:#FFF0F0">Human (giants)</div>
<div class="t" id="t112" style="left:92.3px;top:606.1px;transform:scale(0.9184,0.86);color:#222">passed</div>
<div class="t" id="t113" style="left:1.7px;top:616.7px;transform:scale(0.9620,0.86);color:#111"><b>VP: 140</b></div>
<div class="t" id="t114" style="left:1.7px;top:627.22px;transform:scale(1.0225,0.86);color:#111">res: <b>1c, 0w, 0<i>/</i>1 p, </b><span class="pw">7<i>/</i>0<i>/</i>0 pw</span></div>
<div class="t" id="t115" style="left:1.7px;top:637.74px;transform:scale(1.0286,0.86);color:#111">D: <span class="rd">8<i>/</i>8</span> cost: 1w 2c next:</div>
<div class="t" id="t116" style="left:1.7px;top:648.26px;transform:scale(1.0174,0.86);color:#111">TP: <b>2<i>/</i>4</b> cost: 2w 3/6c next: 2pw 2c</div>
<div class="t" id="t117" style="left:1.7px;top:658.78px;transform:scale(1.0182,0.86);color:#111">TE: <b>1<i>/</i>3</b> cost: 2w 5c next: 1p</div>
<div class="t" id="t118" style="left:1.7px;top:669.3px;transform:scale(1.0195,0.86);color:#111">SH: <b>1<i>/</i>1</b> cost: 4w 6c next: 4pw</div>
<div class="t" id="t119" style="left:1.7px;top:679.82px;transform:scale(1.0218,0.86);color:#111">SA: <b>1<i>/</i>1</b> cost: 4w 6c next: 1p</div>
<div class="t" id="t120" style="left:1.7px;top:690.34px;transform:scale(1.0227,0.86);color:#111">digging: <b>0</b> (0/2) advcost: 1p 2w 5c</div>
<div class="t" id="t121" style="left:1.7px;top:700.86px;transform:scale(1.0247,0.86);color:#111">shipping: <b>1</b> (1/3) advcost: 1p 4c</div>
<div class="t" id="t122" style="left:1.7px;top:711.38px;transform:scale(1.0011,0.86);color:#111">income: <b>4c, 8w, </b><span class="rd">2p</span><b>, 6pw</b></div>
<div class="t" id="t123" style="left:1.7px;top:721.9px;transform:scale(0.8997,0.86);color:#111">octogons:</div>
<div class="t" id="t124" style="left:50.2px;top:721.9px;transform:scale(0.9646,0.86);color:#111"><s>giants2spade</s></div>
<svg width="60" height="60" viewBox="168 602.7 60 60" style="position:absolute;left:168px;top:602.7px"><g transform="translate(198,615.8)" stroke-linejoin="round"><g fill="#4A0608" stroke="#4A0608" stroke-width="1.4"><path d="M-5.7,0 L-5.7,5.2 A5.7,3 0 0 0 5.7,5.2 L5.7,0 Z"/><path d="M-5.7,0 A5.7,3 0 1 1 5.7,0 A5.7,3 0 1 1 -5.7,0 Z"/></g><path d="M-5.7,0 L-5.7,5.2 A5.7,3 0 0 0 5.7,5.2 L5.7,0 Z" fill="url(#cg-red)"/><path d="M-5.7,0 A5.7,3 0 1 1 5.7,0 A5.7,3 0 1 1 -5.7,0 Z" fill="#F0502A"/></g><g transform="translate(186.66,621.18)" stroke-linejoin="round"><g fill="#2A2A2A" stroke="#2A2A2A" stroke-width="1.4"><path d="M-5.7,0 L-5.7,5.2 A5.7,3 0 0 0 5.7,5.2 L5.7,0 Z"/><path d="M-5.7,0 A5.7,3 0 1 1 5.7,0 A5.7,3 0 1 1 -5.7,0 Z"/></g><path d="M-5.7,0 L-5.7,5.2 A5.7,3 0 0 0 5.7,5.2 L5.7,0 Z" fill="url(#cg-gray)"/><path d="M-5.7,0 A5.7,3 0 1 1 5.7,0 A5.7,3 0 1 1 -5.7,0 Z" fill="#A4A4A4"/></g><g transform="translate(209.34,621.18)" stroke-linejoin="round"><g fill="#2C2A00" stroke="#2C2A00" stroke-width="1.4"><path d="M-5.7,0 L-5.7,5.2 A5.7,3 0 0 0 5.7,5.2 L5.7,0 Z"/><path d="M-5.7,0 A5.7,3 0 1 1 5.7,0 A5.7,3 0 1 1 -5.7,0 Z"/></g><path d="M-5.7,0 L-5.7,5.2 A5.7,3 0 0 0 5.7,5.2 L5.7,0 Z" fill="url(#cg-cyellow)"/><path d="M-5.7,0 A5.7,3 0 1 1 5.7,0 A5.7,3 0 1 1 -5.7,0 Z" fill="#E2D312"/></g><g transform="translate(183.86,633.28)" stroke-linejoin="round"><g fill="#0C4412" stroke="#0C4412" stroke-width="1.4"><path d="M-5.7,0 L-5.7,5.2 A5.7,3 0 0 0 5.7,5.2 L5.7,0 Z"/><path d="M-5.7,0 A5.7,3 0 1 1 5.7,0 A5.7,3 0 1 1 -5.7,0 Z"/></g><path d="M-5.7,0 L-5.7,5.2 A5.7,3 0 0 0 5.7,5.2 L5.7,0 Z" fill="url(#cg-green)"/><path d="M-5.7,0 A5.7,3 0 1 1 5.7,0 A5.7,3 0 1 1 -5.7,0 Z" fill="#40D850"/></g><g transform="translate(212.14,633.28)" stroke-linejoin="round"><g fill="#2E1C08" stroke="#2E1C08" stroke-width="1.4"><path d="M-5.7,0 L-5.7,5.2 A5.7,3 0 0 0 5.7,5.2 L5.7,0 Z"/><path d="M-5.7,0 A5.7,3 0 1 1 5.7,0 A5.7,3 0 1 1 -5.7,0 Z"/></g><path d="M-5.7,0 L-5.7,5.2 A5.7,3 0 0 0 5.7,5.2 L5.7,0 Z" fill="url(#cg-brown)"/><path d="M-5.7,0 A5.7,3 0 1 1 5.7,0 A5.7,3 0 1 1 -5.7,0 Z" fill="#9E6A34"/></g><g transform="translate(191.71,642.98)" stroke-linejoin="round"><g fill="#04283E" stroke="#04283E" stroke-width="1.4"><path d="M-5.7,0 L-5.7,5.2 A5.7,3 0 0 0 5.7,5.2 L5.7,0 Z"/><path d="M-5.7,0 A5.7,3 0 1 1 5.7,0 A5.7,3 0 1 1 -5.7,0 Z"/></g><path d="M-5.7,0 L-5.7,5.2 A5.7,3 0 0 0 5.7,5.2 L5.7,0 Z" fill="url(#cg-blue)"/><path d="M-5.7,0 A5.7,3 0 1 1 5.7,0 A5.7,3 0 1 1 -5.7,0 Z" fill="#1E9CE2"/></g><g transform="translate(204.29,642.98)" stroke-linejoin="round"><g fill="#000000" stroke="#000000" stroke-width="1.4"><path d="M-5.7,0 L-5.7,5.2 A5.7,3 0 0 0 5.7,5.2 L5.7,0 Z"/><path d="M-5.7,0 A5.7,3 0 1 1 5.7,0 A5.7,3 0 1 1 -5.7,0 Z"/></g><path d="M-5.7,0 L-5.7,5.2 A5.7,3 0 0 0 5.7,5.2 L5.7,0 Z" fill="url(#cg-black)"/><path d="M-5.7,0 A5.7,3 0 1 1 5.7,0 A5.7,3 0 1 1 -5.7,0 Z" fill="#3A3A3A"/></g></svg>
<div class="fav" style="left:229.6px;top:611.5px"></div>
<div class="cb" style="left:232.6px;top:615.4px;width:5.15px;height:10.7px;background:#9999FF;"></div>
<div class="t" id="t125" style="left:232.8px;top:616.1px;transform:scale(0.8812,0.86);color:#111">o</div>
<div class="t" id="t126" style="left:232.8px;top:630px;transform:scale(1.1171,0.86);color:#111">tp: 3vp</div>
<div class="fav" style="left:282.9px;top:611.5px"></div>
<div class="cb" style="left:285.9px;top:615.4px;width:5.15px;height:10.7px;background:#AA7700;"></div>
<div class="t" id="t127" style="left:286.1px;top:616.1px;transform:scale(0.8812,0.86);color:#111">o</div>
<div class="t" id="t128" style="left:286.1px;top:630px;transform:scale(1.0989,0.86);color:#111">d: 2vp</div>
<div class="fav" style="left:336.2px;top:611.5px"></div>
<div class="cb" style="left:339.2px;top:615.4px;width:5.15px;height:10.7px;background:#DDDDDD;"></div>
<div class="t" id="t129" style="left:339.4px;top:616.1px;transform:scale(0.8812,0.86);color:#111">o</div>
<div class="t" id="t130" style="left:339.4px;top:630px;transform:scale(1.0085,0.86);color:#111">tp pass</div>
<div class="t" id="t131" style="left:339.4px;top:640.3px;transform:scale(1.0710,0.86);color:#111">[2,3,3,4]</div>
<div class="town" style="left:392.7px;top:611.6px"></div>
<div class="t" id="t132" style="left:396.8px;top:617.2px;transform:scale(0.9984,0.86);color:#111">8vp</div>
<div class="t" id="t133" style="left:396.8px;top:631.2px;transform:scale(0.9788,0.86);color:#111">cults</div>
<div class="town" style="left:428.7px;top:611.6px"></div>
<div class="t" id="t134" style="left:432.8px;top:617.2px;transform:scale(0.9984,0.86);color:#111">9vp</div>
<div class="t" id="t135" style="left:432.8px;top:631.2px;transform:scale(0.8719,0.86);color:#111">1p</div>
<div class="sec" style="top:744.65px"></div>
<div class="cb" style="left:1px;top:749.75px;width:67.1px;height:10.3px;background:#DDD0C4;"></div>
<div class="t" id="t136" style="left:1.7px;top:749.95px;transform:scale(0.9746,0.86);color:#F6F2EC">Talos (halflings)</div>
<div class="t" id="t137" style="left:92.3px;top:749.95px;transform:scale(0.9184,0.86);color:#222">passed</div>
<div class="t" id="t138" style="left:1.7px;top:760.55px;transform:scale(0.9452,0.86);color:#111"><b>VP: 86</b></div>
<div class="t" id="t139" style="left:1.7px;top:771.07px;transform:scale(1.0225,0.86);color:#111">res: <b>9c, 0w, 0<i>/</i>6 p, </b><span class="pw">1<i>/</i>4<i>/</i>0 pw</span></div>
<div class="t" id="t140" style="left:1.7px;top:781.59px;transform:scale(1.0285,0.86);color:#111">D: <b>4<i>/</i>8</b> cost: 1w 2c next: 1w</div>
<div class="t" id="t141" style="left:1.7px;top:792.11px;transform:scale(1.0174,0.86);color:#111">TP: <b>0<i>/</i>4</b> cost: 2w 3/6c next: 1pw 2c</div>
<div class="t" id="t142" style="left:1.7px;top:802.63px;transform:scale(1.0182,0.86);color:#111">TE: <b>0<i>/</i>3</b> cost: 2w 5c next: 1p</div>
<div class="t" id="t143" style="left:1.7px;top:813.15px;transform:scale(1.0195,0.86);color:#111">SH: <b>1<i>/</i>1</b> cost: 4w 8c next: 2pw</div>
<div class="t" id="t144" style="left:1.7px;top:823.67px;transform:scale(1.0218,0.86);color:#111">SA: <b>1<i>/</i>1</b> cost: 4w 6c next: 1p</div>
<div class="t" id="t145" style="left:1.7px;top:834.19px;transform:scale(1.0227,0.86);color:#111">digging: <b>2</b> (2/2) advcost: 1p 2w 1c</div>
<div class="t" id="t146" style="left:1.7px;top:844.71px;transform:scale(1.0247,0.86);color:#111">shipping: <b>0</b> (0/3) advcost: 1p 4c</div>
<div class="t" id="t147" style="left:1.7px;top:855.23px;transform:scale(1.0003,0.86);color:#111">income: <b>0c, 5w, 1p, 2pw</b></div>
<div class="t" id="t148" style="left:1.7px;top:865.75px;transform:scale(0.8997,0.86);color:#111">octogons:</div>
<svg width="60" height="60" viewBox="168 746.55 60 60" style="position:absolute;left:168px;top:746.55px"><g transform="translate(198,759.65)" stroke-linejoin="round"><g fill="#2E1C08" stroke="#2E1C08" stroke-width="1.4"><path d="M-5.7,0 L-5.7,5.2 A5.7,3 0 0 0 5.7,5.2 L5.7,0 Z"/><path d="M-5.7,0 A5.7,3 0 1 1 5.7,0 A5.7,3 0 1 1 -5.7,0 Z"/></g><path d="M-5.7,0 L-5.7,5.2 A5.7,3 0 0 0 5.7,5.2 L5.7,0 Z" fill="url(#cg-brown)"/><path d="M-5.7,0 A5.7,3 0 1 1 5.7,0 A5.7,3 0 1 1 -5.7,0 Z" fill="#9E6A34"/></g><g transform="translate(186.66,765.03)" stroke-linejoin="round"><g fill="#2C2A00" stroke="#2C2A00" stroke-width="1.4"><path d="M-5.7,0 L-5.7,5.2 A5.7,3 0 0 0 5.7,5.2 L5.7,0 Z"/><path d="M-5.7,0 A5.7,3 0 1 1 5.7,0 A5.7,3 0 1 1 -5.7,0 Z"/></g><path d="M-5.7,0 L-5.7,5.2 A5.7,3 0 0 0 5.7,5.2 L5.7,0 Z" fill="url(#cg-cyellow)"/><path d="M-5.7,0 A5.7,3 0 1 1 5.7,0 A5.7,3 0 1 1 -5.7,0 Z" fill="#E2D312"/></g><g transform="translate(209.34,765.03)" stroke-linejoin="round"><g fill="#000000" stroke="#000000" stroke-width="1.4"><path d="M-5.7,0 L-5.7,5.2 A5.7,3 0 0 0 5.7,5.2 L5.7,0 Z"/><path d="M-5.7,0 A5.7,3 0 1 1 5.7,0 A5.7,3 0 1 1 -5.7,0 Z"/></g><path d="M-5.7,0 L-5.7,5.2 A5.7,3 0 0 0 5.7,5.2 L5.7,0 Z" fill="url(#cg-black)"/><path d="M-5.7,0 A5.7,3 0 1 1 5.7,0 A5.7,3 0 1 1 -5.7,0 Z" fill="#3A3A3A"/></g><g transform="translate(183.86,777.13)" stroke-linejoin="round"><g fill="#4A0608" stroke="#4A0608" stroke-width="1.4"><path d="M-5.7,0 L-5.7,5.2 A5.7,3 0 0 0 5.7,5.2 L5.7,0 Z"/><path d="M-5.7,0 A5.7,3 0 1 1 5.7,0 A5.7,3 0 1 1 -5.7,0 Z"/></g><path d="M-5.7,0 L-5.7,5.2 A5.7,3 0 0 0 5.7,5.2 L5.7,0 Z" fill="url(#cg-red)"/><path d="M-5.7,0 A5.7,3 0 1 1 5.7,0 A5.7,3 0 1 1 -5.7,0 Z" fill="#F0502A"/></g><g transform="translate(212.14,777.13)" stroke-linejoin="round"><g fill="#04283E" stroke="#04283E" stroke-width="1.4"><path d="M-5.7,0 L-5.7,5.2 A5.7,3 0 0 0 5.7,5.2 L5.7,0 Z"/><path d="M-5.7,0 A5.7,3 0 1 1 5.7,0 A5.7,3 0 1 1 -5.7,0 Z"/></g><path d="M-5.7,0 L-5.7,5.2 A5.7,3 0 0 0 5.7,5.2 L5.7,0 Z" fill="url(#cg-blue)"/><path d="M-5.7,0 A5.7,3 0 1 1 5.7,0 A5.7,3 0 1 1 -5.7,0 Z" fill="#1E9CE2"/></g><g transform="translate(191.71,786.83)" stroke-linejoin="round"><g fill="#2A2A2A" stroke="#2A2A2A" stroke-width="1.4"><path d="M-5.7,0 L-5.7,5.2 A5.7,3 0 0 0 5.7,5.2 L5.7,0 Z"/><path d="M-5.7,0 A5.7,3 0 1 1 5.7,0 A5.7,3 0 1 1 -5.7,0 Z"/></g><path d="M-5.7,0 L-5.7,5.2 A5.7,3 0 0 0 5.7,5.2 L5.7,0 Z" fill="url(#cg-gray)"/><path d="M-5.7,0 A5.7,3 0 1 1 5.7,0 A5.7,3 0 1 1 -5.7,0 Z" fill="#A4A4A4"/></g><g transform="translate(204.29,786.83)" stroke-linejoin="round"><g fill="#0C4412" stroke="#0C4412" stroke-width="1.4"><path d="M-5.7,0 L-5.7,5.2 A5.7,3 0 0 0 5.7,5.2 L5.7,0 Z"/><path d="M-5.7,0 A5.7,3 0 1 1 5.7,0 A5.7,3 0 1 1 -5.7,0 Z"/></g><path d="M-5.7,0 L-5.7,5.2 A5.7,3 0 0 0 5.7,5.2 L5.7,0 Z" fill="url(#cg-green)"/><path d="M-5.7,0 A5.7,3 0 1 1 5.7,0 A5.7,3 0 1 1 -5.7,0 Z" fill="#40D850"/></g></svg>
<div class="fav" style="left:229.6px;top:755.35px"></div>
<div class="cb" style="left:232.6px;top:759.25px;width:15.45px;height:10.7px;background:#FF6644;"></div>
<div class="t" id="t149" style="left:232.8px;top:759.95px;transform:scale(0.9306,0.86);color:#111">ooo</div>
<div class="fav" style="left:282.9px;top:755.35px"></div>
<div class="cb" style="left:285.9px;top:759.25px;width:5.15px;height:10.7px;background:#DDDDDD;"></div>
<div class="t" id="t150" style="left:286.1px;top:759.95px;transform:scale(0.8812,0.86);color:#111">o</div>
<div class="t" id="t151" style="left:286.1px;top:773.85px;transform:scale(1.0085,0.86);color:#111">tp pass</div>
<div class="t" id="t152" style="left:286.1px;top:784.15px;transform:scale(1.0710,0.86);color:#111">[2,3,3,4]</div>
<div class="town" style="left:339.4px;top:755.45px"></div>
<div class="t" id="t153" style="left:343.5px;top:761.05px;transform:scale(0.9984,0.86);color:#111">8vp</div>
<div class="t" id="t154" style="left:343.5px;top:775.05px;transform:scale(0.9788,0.86);color:#111">cults</div>
<div class="sec" style="top:888.5px"></div>
<div class="cb" style="left:1px;top:893.6px;width:76.1px;height:10.3px;background:#FBF7B4;"></div>
<div class="t" id="t155" style="left:1.7px;top:893.8px;transform:scale(0.9620,0.86);color:#A6A668">Galatea (nomads)</div>
<div class="t" id="t156" style="left:92.3px;top:893.8px;transform:scale(0.9184,0.86);color:#222">passed</div>
<div class="t" id="t157" style="left:1.7px;top:904.4px;transform:scale(0.9452,0.86);color:#111"><b>VP: 94</b></div>
<div class="t" id="t158" style="left:1.7px;top:914.92px;transform:scale(1.0225,0.86);color:#111">res: <b>0c, 1w, 0<i>/</i>7 p, </b><span class="pw">1<i>/</i>4<i>/</i>0 pw</span></div>
<div class="t" id="t159" style="left:1.7px;top:925.44px;transform:scale(1.0286,0.86);color:#111">D: <b>7<i>/</i>8</b> cost: 1w 2c next:</div>
<div class="t" id="t160" style="left:1.7px;top:935.96px;transform:scale(1.0174,0.86);color:#111">TP: <b>1<i>/</i>4</b> cost: 2w 3/6c next: 1pw 2c</div>
<div class="t" id="t161" style="left:1.7px;top:946.48px;transform:scale(1.0182,0.86);color:#111">TE: <b>1<i>/</i>3</b> cost: 2w 5c next: 1p</div>
<div class="t" id="t162" style="left:1.7px;top:957px;transform:scale(1.0195,0.86);color:#111">SH: <b>1<i>/</i>1</b> cost: 4w 8c next: 2pw</div>
<div class="t" id="t163" style="left:1.7px;top:967.52px;transform:scale(1.0218,0.86);color:#111">SA: <b>1<i>/</i>1</b> cost: 4w 6c next: 1p</div>
<div class="t" id="t164" style="left:1.7px;top:978.04px;transform:scale(1.0227,0.86);color:#111">digging: <b>1</b> (1/2) advcost: 1p 2w 5c</div>
<div class="t" id="t165" style="left:1.7px;top:988.56px;transform:scale(1.0247,0.86);color:#111">shipping: <b>1</b> (1/3) advcost: 1p 4c</div>
<div class="t" id="t166" style="left:1.7px;top:999.08px;transform:scale(1.0003,0.86);color:#111">income: <b>2c, 8w, 2p, 3pw</b></div>
<div class="t" id="t167" style="left:1.7px;top:1009.6px;transform:scale(0.8997,0.86);color:#111">octogons:</div>
<div class="t" id="t168" style="left:50.4px;top:1009.6px;transform:scale(0.9749,0.86);color:#111"><s>sandstorm</s></div>
<svg width="60" height="60" viewBox="168 890.4 60 60" style="position:absolute;left:168px;top:890.4px"><g transform="translate(198,903.5)" stroke-linejoin="round"><g fill="#2C2A00" stroke="#2C2A00" stroke-width="1.4"><path d="M-5.7,0 L-5.7,5.2 A5.7,3 0 0 0 5.7,5.2 L5.7,0 Z"/><path d="M-5.7,0 A5.7,3 0 1 1 5.7,0 A5.7,3 0 1 1 -5.7,0 Z"/></g><path d="M-5.7,0 L-5.7,5.2 A5.7,3 0 0 0 5.7,5.2 L5.7,0 Z" fill="url(#cg-cyellow)"/><path d="M-5.7,0 A5.7,3 0 1 1 5.7,0 A5.7,3 0 1 1 -5.7,0 Z" fill="#E2D312"/></g><g transform="translate(186.66,908.88)" stroke-linejoin="round"><g fill="#4A0608" stroke="#4A0608" stroke-width="1.4"><path d="M-5.7,0 L-5.7,5.2 A5.7,3 0 0 0 5.7,5.2 L5.7,0 Z"/><path d="M-5.7,0 A5.7,3 0 1 1 5.7,0 A5.7,3 0 1 1 -5.7,0 Z"/></g><path d="M-5.7,0 L-5.7,5.2 A5.7,3 0 0 0 5.7,5.2 L5.7,0 Z" fill="url(#cg-red)"/><path d="M-5.7,0 A5.7,3 0 1 1 5.7,0 A5.7,3 0 1 1 -5.7,0 Z" fill="#F0502A"/></g><g transform="translate(209.34,908.88)" stroke-linejoin="round"><g fill="#2E1C08" stroke="#2E1C08" stroke-width="1.4"><path d="M-5.7,0 L-5.7,5.2 A5.7,3 0 0 0 5.7,5.2 L5.7,0 Z"/><path d="M-5.7,0 A5.7,3 0 1 1 5.7,0 A5.7,3 0 1 1 -5.7,0 Z"/></g><path d="M-5.7,0 L-5.7,5.2 A5.7,3 0 0 0 5.7,5.2 L5.7,0 Z" fill="url(#cg-brown)"/><path d="M-5.7,0 A5.7,3 0 1 1 5.7,0 A5.7,3 0 1 1 -5.7,0 Z" fill="#9E6A34"/></g><g transform="translate(183.86,920.98)" stroke-linejoin="round"><g fill="#2A2A2A" stroke="#2A2A2A" stroke-width="1.4"><path d="M-5.7,0 L-5.7,5.2 A5.7,3 0 0 0 5.7,5.2 L5.7,0 Z"/><path d="M-5.7,0 A5.7,3 0 1 1 5.7,0 A5.7,3 0 1 1 -5.7,0 Z"/></g><path d="M-5.7,0 L-5.7,5.2 A5.7,3 0 0 0 5.7,5.2 L5.7,0 Z" fill="url(#cg-gray)"/><path d="M-5.7,0 A5.7,3 0 1 1 5.7,0 A5.7,3 0 1 1 -5.7,0 Z" fill="#A4A4A4"/></g><g transform="translate(212.14,920.98)" stroke-linejoin="round"><g fill="#000000" stroke="#000000" stroke-width="1.4"><path d="M-5.7,0 L-5.7,5.2 A5.7,3 0 0 0 5.7,5.2 L5.7,0 Z"/><path d="M-5.7,0 A5.7,3 0 1 1 5.7,0 A5.7,3 0 1 1 -5.7,0 Z"/></g><path d="M-5.7,0 L-5.7,5.2 A5.7,3 0 0 0 5.7,5.2 L5.7,0 Z" fill="url(#cg-black)"/><path d="M-5.7,0 A5.7,3 0 1 1 5.7,0 A5.7,3 0 1 1 -5.7,0 Z" fill="#3A3A3A"/></g><g transform="translate(191.71,930.68)" stroke-linejoin="round"><g fill="#0C4412" stroke="#0C4412" stroke-width="1.4"><path d="M-5.7,0 L-5.7,5.2 A5.7,3 0 0 0 5.7,5.2 L5.7,0 Z"/><path d="M-5.7,0 A5.7,3 0 1 1 5.7,0 A5.7,3 0 1 1 -5.7,0 Z"/></g><path d="M-5.7,0 L-5.7,5.2 A5.7,3 0 0 0 5.7,5.2 L5.7,0 Z" fill="url(#cg-green)"/><path d="M-5.7,0 A5.7,3 0 1 1 5.7,0 A5.7,3 0 1 1 -5.7,0 Z" fill="#40D850"/></g><g transform="translate(204.29,930.68)" stroke-linejoin="round"><g fill="#04283E" stroke="#04283E" stroke-width="1.4"><path d="M-5.7,0 L-5.7,5.2 A5.7,3 0 0 0 5.7,5.2 L5.7,0 Z"/><path d="M-5.7,0 A5.7,3 0 1 1 5.7,0 A5.7,3 0 1 1 -5.7,0 Z"/></g><path d="M-5.7,0 L-5.7,5.2 A5.7,3 0 0 0 5.7,5.2 L5.7,0 Z" fill="url(#cg-blue)"/><path d="M-5.7,0 A5.7,3 0 1 1 5.7,0 A5.7,3 0 1 1 -5.7,0 Z" fill="#1E9CE2"/></g></svg>
<div class="fav" style="left:229.6px;top:899.2px"></div>
<div class="cb" style="left:232.6px;top:903.1px;width:15.45px;height:10.7px;background:#AA7700;"></div>
<div class="t" id="t169" style="left:232.8px;top:903.8px;transform:scale(0.9306,0.86);color:#111">ooo</div>
<div class="fav" style="left:282.9px;top:899.2px"></div>
<div class="cb" style="left:285.9px;top:903.1px;width:10.3px;height:10.7px;background:#FF6644;"></div>
<div class="t" id="t170" style="left:286.1px;top:903.8px;transform:scale(0.9183,0.86);color:#111">oo</div>
<div class="t" id="t171" style="left:286.1px;top:917.7px;transform:scale(1.0895,0.86);color:#111">tw:</div>
<div class="t" id="t172" style="left:286.1px;top:928px;transform:scale(0.9481,0.86);color:#111">size 6</div>
<div class="fav" style="left:336.2px;top:899.2px"></div>
<div class="cb" style="left:339.2px;top:903.1px;width:5.15px;height:10.7px;background:#AA7700;"></div>
<div class="t" id="t173" style="left:339.4px;top:903.8px;transform:scale(0.8812,0.86);color:#111">o</div>
<div class="t" id="t174" style="left:339.4px;top:917.7px;transform:scale(1.0989,0.86);color:#111">d: 2vp</div>
<div class="t" id="t175" style="left:393.3px;top:891.7px;transform:scale(0.9380,0.86);color:#111">2x</div>
<div class="town" style="left:392.7px;top:899.3px"></div>
<div class="t" id="t176" style="left:396.8px;top:904.9px;transform:scale(0.9984,0.86);color:#111">5vp</div>
<div class="t" id="t177" style="left:396.8px;top:918.9px;transform:scale(0.9380,0.86);color:#111">6c</div>
<div class="sec" style="top:1032.35px"></div>
<div class="cb" style="left:1px;top:1037.45px;width:61.8px;height:10.3px;background:#BCEEC4;"></div>
<div class="t" id="t178" style="left:1.7px;top:1037.65px;transform:scale(0.9653,0.86);color:#78A080">Golem (auren)</div>
<div class="t" id="t179" style="left:92.3px;top:1037.65px;transform:scale(0.9771,0.86);color:#222">passed, start</div>
<div class="t" id="t180" style="left:1.7px;top:1048.25px;transform:scale(0.9452,0.86);color:#111"><b>VP: 78</b></div>
<div class="t" id="t181" style="left:1.7px;top:1058.77px;transform:scale(1.0216,0.86);color:#111">res: <b>18c, 0w, 0<i>/</i>6 p, </b><span class="pw">4<i>/</i>0<i>/</i>0 pw</span></div>
<div class="t" id="t182" style="left:1.7px;top:1069.29px;transform:scale(1.0286,0.86);color:#111">D: <b>7<i>/</i>8</b> cost: 1w 2c next:</div>
<div class="t" id="t183" style="left:1.7px;top:1079.81px;transform:scale(1.0174,0.86);color:#111">TP: <b>2<i>/</i>4</b> cost: 2w 3/6c next: 2pw 2c</div>
<div class="t" id="t184" style="left:1.7px;top:1090.33px;transform:scale(1.0182,0.86);color:#111">TE: <b>1<i>/</i>3</b> cost: 2w 5c next: 1p</div>
<div class="t" id="t185" style="left:1.7px;top:1100.85px;transform:scale(1.0195,0.86);color:#111">SH: <b>0<i>/</i>1</b> cost: 4w 6c next: 2pw</div>
<div class="t" id="t186" style="left:1.7px;top:1111.37px;transform:scale(1.0218,0.86);color:#111">SA: <b>0<i>/</i>1</b> cost: 4w 8c next: 1p</div>
<div class="t" id="t187" style="left:1.7px;top:1121.89px;transform:scale(1.0227,0.86);color:#111">digging: <b>0</b> (0/2) advcost: 1p 2w 5c</div>
<div class="t" id="t188" style="left:1.7px;top:1132.41px;transform:scale(1.0247,0.86);color:#111">shipping: <b>1</b> (1/3) advcost: 1p 4c</div>
<div class="t" id="t189" style="left:1.7px;top:1142.93px;transform:scale(1.0003,0.86);color:#111">income: <b>4c, 8w, 1p, 2pw</b></div>
<div class="t" id="t190" style="left:1.7px;top:1153.45px;transform:scale(0.8997,0.86);color:#111">octogons:</div>
<svg width="60" height="60" viewBox="168 1034.25 60 60" style="position:absolute;left:168px;top:1034.25px"><g transform="translate(198,1047.35)" stroke-linejoin="round"><g fill="#0C4412" stroke="#0C4412" stroke-width="1.4"><path d="M-5.7,0 L-5.7,5.2 A5.7,3 0 0 0 5.7,5.2 L5.7,0 Z"/><path d="M-5.7,0 A5.7,3 0 1 1 5.7,0 A5.7,3 0 1 1 -5.7,0 Z"/></g><path d="M-5.7,0 L-5.7,5.2 A5.7,3 0 0 0 5.7,5.2 L5.7,0 Z" fill="url(#cg-green)"/><path d="M-5.7,0 A5.7,3 0 1 1 5.7,0 A5.7,3 0 1 1 -5.7,0 Z" fill="#40D850"/></g><g transform="translate(186.66,1052.73)" stroke-linejoin="round"><g fill="#04283E" stroke="#04283E" stroke-width="1.4"><path d="M-5.7,0 L-5.7,5.2 A5.7,3 0 0 0 5.7,5.2 L5.7,0 Z"/><path d="M-5.7,0 A5.7,3 0 1 1 5.7,0 A5.7,3 0 1 1 -5.7,0 Z"/></g><path d="M-5.7,0 L-5.7,5.2 A5.7,3 0 0 0 5.7,5.2 L5.7,0 Z" fill="url(#cg-blue)"/><path d="M-5.7,0 A5.7,3 0 1 1 5.7,0 A5.7,3 0 1 1 -5.7,0 Z" fill="#1E9CE2"/></g><g transform="translate(209.34,1052.73)" stroke-linejoin="round"><g fill="#2A2A2A" stroke="#2A2A2A" stroke-width="1.4"><path d="M-5.7,0 L-5.7,5.2 A5.7,3 0 0 0 5.7,5.2 L5.7,0 Z"/><path d="M-5.7,0 A5.7,3 0 1 1 5.7,0 A5.7,3 0 1 1 -5.7,0 Z"/></g><path d="M-5.7,0 L-5.7,5.2 A5.7,3 0 0 0 5.7,5.2 L5.7,0 Z" fill="url(#cg-gray)"/><path d="M-5.7,0 A5.7,3 0 1 1 5.7,0 A5.7,3 0 1 1 -5.7,0 Z" fill="#A4A4A4"/></g><g transform="translate(183.86,1064.83)" stroke-linejoin="round"><g fill="#000000" stroke="#000000" stroke-width="1.4"><path d="M-5.7,0 L-5.7,5.2 A5.7,3 0 0 0 5.7,5.2 L5.7,0 Z"/><path d="M-5.7,0 A5.7,3 0 1 1 5.7,0 A5.7,3 0 1 1 -5.7,0 Z"/></g><path d="M-5.7,0 L-5.7,5.2 A5.7,3 0 0 0 5.7,5.2 L5.7,0 Z" fill="url(#cg-black)"/><path d="M-5.7,0 A5.7,3 0 1 1 5.7,0 A5.7,3 0 1 1 -5.7,0 Z" fill="#3A3A3A"/></g><g transform="translate(212.14,1064.83)" stroke-linejoin="round"><g fill="#4A0608" stroke="#4A0608" stroke-width="1.4"><path d="M-5.7,0 L-5.7,5.2 A5.7,3 0 0 0 5.7,5.2 L5.7,0 Z"/><path d="M-5.7,0 A5.7,3 0 1 1 5.7,0 A5.7,3 0 1 1 -5.7,0 Z"/></g><path d="M-5.7,0 L-5.7,5.2 A5.7,3 0 0 0 5.7,5.2 L5.7,0 Z" fill="url(#cg-red)"/><path d="M-5.7,0 A5.7,3 0 1 1 5.7,0 A5.7,3 0 1 1 -5.7,0 Z" fill="#F0502A"/></g><g transform="translate(191.71,1074.53)" stroke-linejoin="round"><g fill="#2E1C08" stroke="#2E1C08" stroke-width="1.4"><path d="M-5.7,0 L-5.7,5.2 A5.7,3 0 0 0 5.7,5.2 L5.7,0 Z"/><path d="M-5.7,0 A5.7,3 0 1 1 5.7,0 A5.7,3 0 1 1 -5.7,0 Z"/></g><path d="M-5.7,0 L-5.7,5.2 A5.7,3 0 0 0 5.7,5.2 L5.7,0 Z" fill="url(#cg-brown)"/><path d="M-5.7,0 A5.7,3 0 1 1 5.7,0 A5.7,3 0 1 1 -5.7,0 Z" fill="#9E6A34"/></g><g transform="translate(204.29,1074.53)" stroke-linejoin="round"><g fill="#2C2A00" stroke="#2C2A00" stroke-width="1.4"><path d="M-5.7,0 L-5.7,5.2 A5.7,3 0 0 0 5.7,5.2 L5.7,0 Z"/><path d="M-5.7,0 A5.7,3 0 1 1 5.7,0 A5.7,3 0 1 1 -5.7,0 Z"/></g><path d="M-5.7,0 L-5.7,5.2 A5.7,3 0 0 0 5.7,5.2 L5.7,0 Z" fill="url(#cg-cyellow)"/><path d="M-5.7,0 A5.7,3 0 1 1 5.7,0 A5.7,3 0 1 1 -5.7,0 Z" fill="#E2D312"/></g></svg>
<div class="fav" style="left:229.6px;top:1043.05px"></div>
<div class="cb" style="left:232.6px;top:1046.95px;width:5.15px;height:10.7px;background:#AA7700;"></div>
<div class="t" id="t191" style="left:232.8px;top:1047.65px;transform:scale(0.8812,0.86);color:#111">o</div>
<div class="t" id="t192" style="left:232.8px;top:1061.55px;transform:scale(1.0989,0.86);color:#111">d: 2vp</div>
<div class="town" style="left:286.1px;top:1043.15px"></div>
<div class="t" id="t193" style="left:290.2px;top:1048.75px;transform:scale(0.9984,0.86);color:#111">9vp</div>
<div class="t" id="t194" style="left:290.2px;top:1062.75px;transform:scale(0.8719,0.86);color:#111">1p</div></div></body></html>
